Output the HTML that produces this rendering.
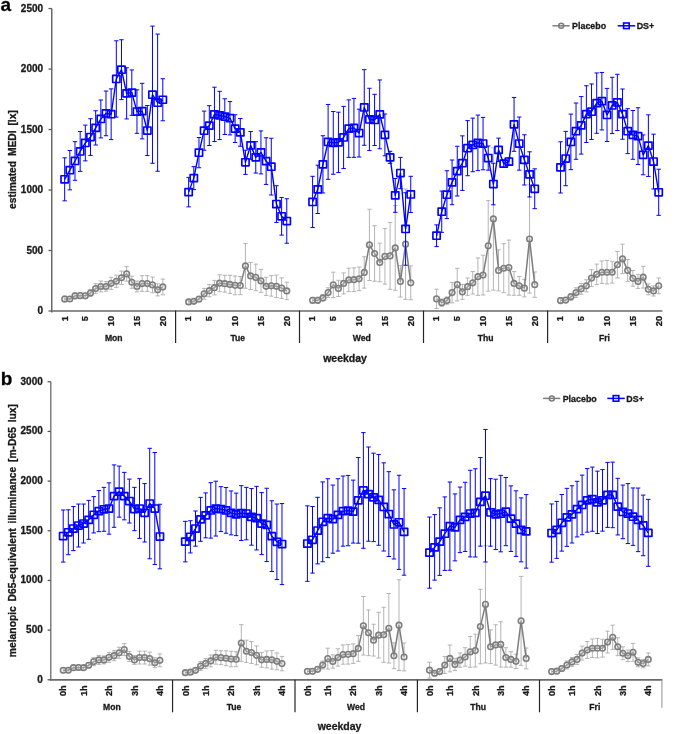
<!DOCTYPE html>
<html lang="en">
<head>
<meta charset="utf-8">
<title>Estimated MEDI and melanopic D65-equivalent illuminance by weekday</title>
<style>
html,body{margin:0;padding:0;background:#fff;}
body{width:685px;height:734px;overflow:hidden;}
svg{display:block;will-change:transform;}
text{font-family:"Liberation Sans",Arial,Helvetica,sans-serif;font-weight:bold;fill:#1a1a1a;stroke:#1a1a1a;stroke-width:0.3px;}
.yt{font-size:10px;}
.xt{font-size:9.2px;}
.day{font-size:8.6px;}
.lg{font-size:8.9px;}
.pl{font-size:19px;fill:#000;}
.ytitle{font-size:10.3px;word-spacing:1.9px;}
.xtitle{font-size:10.5px;}
</style>
</head>
<body>
<svg width="685" height="734" viewBox="0 0 685 734">
<rect width="685" height="734" fill="#fff"/>
<g id="panel-a">
<path d="M64.66 295.99V302.03M62.46 295.99H66.86M62.46 302.03H66.86M69.83 296.59V301.42M67.63 296.59H72.03M67.63 301.42H72.03M74.99 292.85V298.89M72.79 292.85H77.19M72.79 298.89H77.19M80.16 292.61V298.64M77.96 292.61H82.36M77.96 298.64H82.36M85.33 293.21V298.52M83.13 293.21H87.53M83.13 298.52H87.53M90.49 289.59V296.35M88.29 289.59H92.69M88.29 296.35H92.69M95.66 283.67V293.33M93.46 283.67H97.86M93.46 293.33H97.86M100.82 281.01V291.88M98.62 281.01H103.02M98.62 291.88H103.02M105.99 281.62V291.28M103.79 281.62H108.19M103.79 291.28H108.19M111.15 277.27V289.35M108.95 277.27H113.35M108.95 289.35H113.35M116.32 275.22V287.29M114.12 275.22H118.52M114.12 287.29H118.52M121.48 271.11V284.4M119.28 271.11H123.68M119.28 284.4H123.68M126.65 266.64V281.13M124.45 266.64H128.85M124.45 281.13H128.85M131.81 276.18V288.26M129.61 276.18H134.01M129.61 288.26H134.01M136.98 281.01V291.88M134.78 281.01H139.18M134.78 291.88H139.18M142.14 275.7V291.4M139.94 275.7H144.34M139.94 291.4H144.34M147.31 275.7V291.4M145.11 275.7H149.51M145.11 291.4H149.51M152.48 277.03V292.73M150.28 277.03H154.68M150.28 292.73H154.68M157.64 283.79V295.87M155.44 283.79H159.84M155.44 295.87H159.84M162.81 279.08V294.78M160.61 279.08H165.01M160.61 294.78H165.01M188.63 300.09V303.72M186.43 300.09H190.83M186.43 303.72H190.83M193.8 299.49V303.11M191.6 299.49H196M191.6 303.11H196M198.96 296.71V301.54M196.76 296.71H201.16M196.76 301.54H201.16M204.13 288.38V299.25M201.93 288.38H206.33M201.93 299.25H206.33M209.3 284.64V296.71M207.1 284.64H211.5M207.1 296.71H211.5M214.46 280.41V294.9M212.26 280.41H216.66M212.26 294.9H216.66M219.63 274.73V291.64M217.43 274.73H221.83M217.43 291.64H221.83M224.79 275.22V292.12M222.59 275.22H226.99M222.59 292.12H226.99M229.96 275.34V293.45M227.76 275.34H232.16M227.76 293.45H232.16M235.12 275.94V294.78M232.92 275.94H237.32M232.92 294.78H237.32M240.29 276.55V294.66M238.09 276.55H242.49M238.09 294.66H242.49M245.45 243.58V288.26M243.25 243.58H247.65M243.25 288.26H247.65M250.62 262.42V289.47M248.42 262.42H252.82M248.42 289.47H252.82M255.78 264.11V290.67M253.58 264.11H257.98M253.58 290.67H257.98M260.95 269.42V292.37M258.75 269.42H263.15M258.75 292.37H263.15M266.11 277.27V295.38M263.91 277.27H268.31M263.91 295.38H268.31M271.28 275.58V296.11M269.08 275.58H273.48M269.08 296.11H273.48M276.45 275.1V297.56M274.25 275.1H278.65M274.25 297.56H278.65M281.61 277.87V298.4M279.41 277.87H283.81M279.41 298.4H283.81M286.78 282.22V299.61M284.58 282.22H288.98M284.58 299.61H288.98M312.6 297.32V303.35M310.4 297.32H314.8M310.4 303.35H314.8M317.77 297.32V303.35M315.57 297.32H319.97M315.57 303.35H319.97M322.93 294.9V300.94M320.73 294.9H325.13M320.73 300.94H325.13M328.1 287.78V297.44M325.9 287.78H330.3M325.9 297.44H330.3M333.27 272.2V297.56M331.07 272.2H335.47M331.07 297.56H335.47M338.43 280.29V296.47M336.23 280.29H340.63M336.23 296.47H340.63M343.6 272.92V293.94M341.4 272.92H345.8M341.4 293.94H345.8M348.76 268.21V291.64M346.56 268.21H350.96M346.56 291.64H350.96M353.93 267.85V291.52M351.73 267.85H356.13M351.73 291.52H356.13M359.09 267.01V290.67M356.89 267.01H361.29M356.89 290.67H361.29M364.26 256.74V288.14M362.06 256.74H366.46M362.06 288.14H366.46M369.42 209.28V280.53M367.22 209.28H371.62M367.22 280.53H371.62M374.59 225.71V281.26M372.39 225.71H376.79M372.39 281.26H376.79M379.75 243.1V281.74M377.55 243.1H381.95M377.55 281.74H381.95M384.92 228.6V284.15M382.72 228.6H387.12M382.72 284.15H387.12M390.08 222.45V289.35M387.88 222.45H392.28M387.88 289.35H392.28M395.25 205.66V290.19M393.05 205.66H397.45M393.05 290.19H397.45M400.42 265.68V297.07M398.22 265.68H402.62M398.22 297.07H402.62M405.58 188.99V299.37M403.38 188.99H407.78M403.38 299.37H407.78M410.75 265.92V299.73M408.55 265.92H412.95M408.55 299.73H412.95M436.57 289.23V308.55M434.37 289.23H438.77M434.37 308.55H438.77M441.74 299.01V306.25M439.54 299.01H443.94M439.54 306.25H443.94M446.9 296.95V304.2M444.7 296.95H449.1M444.7 304.2H449.1M452.07 282.34V302.87M449.87 282.34H454.27M449.87 302.87H454.27M457.24 268.33V300.94M455.04 268.33H459.44M455.04 300.94H459.44M462.4 284.4V299.37M460.2 284.4H464.6M460.2 299.37H464.6M467.57 277.99V295.38M465.37 277.99H469.77M465.37 295.38H469.77M472.73 271.59V294.06M470.53 271.59H474.93M470.53 294.06H474.93M477.9 257.95V295.38M475.7 257.95H480.1M475.7 295.38H480.1M483.06 255.17V295.02M480.86 255.17H485.26M480.86 295.02H485.26M488.23 200.59V291.16M486.03 200.59H490.43M486.03 291.16H490.43M493.39 147.69V290.19M491.19 147.69H495.59M491.19 290.19H495.59M498.56 249.86V290.92M496.36 249.86H500.76M496.36 290.92H500.76M503.72 243.7V292.73M501.52 243.7H505.92M501.52 292.73H505.92M508.89 240.08V295.14M506.69 240.08H511.09M506.69 295.14H511.09M514.05 271.59V295.26M511.85 271.59H516.25M511.85 295.26H516.25M519.22 276.42V295.26M517.02 276.42H521.42M517.02 295.26H521.42M524.39 279.44V296.83M522.19 279.44H526.59M522.19 296.83H526.59M529.55 184.89V293.09M527.35 184.89H531.75M527.35 293.09H531.75M534.72 271.96V297.32M532.52 271.96H536.92M532.52 297.32H536.92M560.54 297.56V303.6M558.34 297.56H562.74M558.34 303.6H562.74M565.71 297.44V302.75M563.51 297.44H567.91M563.51 302.75H567.91M570.87 293.45V300.21M568.67 293.45H573.07M568.67 300.21H573.07M576.04 287.78V297.44M573.84 287.78H578.24M573.84 297.44H578.24M581.21 283.43V294.3M579.01 283.43H583.41M579.01 294.3H583.41M586.37 279.81V291.88M584.17 279.81H588.57M584.17 291.88H588.57M591.54 269.66V286.57M589.34 269.66H593.74M589.34 286.57H593.74M596.7 264.11V284.64M594.5 264.11H598.9M594.5 284.64H598.9M601.87 260.97V283.43M599.67 260.97H604.07M599.67 283.43H604.07M607.03 260.48V283.91M604.83 260.48H609.23M604.83 283.91H609.23M612.2 261.33V283.07M610 261.33H614.4M610 283.07H614.4M617.36 251.43V277.99M615.16 251.43H619.56M615.16 277.99H619.56M622.53 244.18V273.65M620.33 244.18H624.73M620.33 273.65H624.73M627.69 259.52V281.26M625.49 259.52H629.89M625.49 281.26H629.89M632.86 270.51V286.21M630.66 270.51H635.06M630.66 286.21H635.06M638.02 274.37V288.38M635.82 274.37H640.22M635.82 288.38H640.22M643.19 266.28V288.02M640.99 266.28H645.39M640.99 288.02H645.39M648.36 283.91V294.78M646.16 283.91H650.56M646.16 294.78H650.56M653.52 285.84V295.99M651.32 285.84H655.72M651.32 295.99H655.72M658.69 277.99V293.69M656.49 277.99H660.89M656.49 293.69H660.89" fill="none" stroke="#adadad" stroke-width="0.9"/>
<polyline points="64.66,299.01 69.83,299.01 74.99,295.87 80.16,295.63 85.33,295.87 90.49,292.97 95.66,288.5 100.82,286.45 105.99,286.45 111.15,283.31 116.32,281.26 121.48,277.75 126.65,273.89 131.81,282.22 136.98,286.45 142.14,283.55 147.31,283.55 152.48,284.88 157.64,289.83 162.81,286.93" fill="none" stroke="#7d7d7d" stroke-width="1.5" stroke-linejoin="round"/>
<polyline points="188.63,301.91 193.8,301.3 198.96,299.13 204.13,293.81 209.3,290.67 214.46,287.66 219.63,283.19 224.79,283.67 229.96,284.4 235.12,285.36 240.29,285.6 245.45,265.92 250.62,275.94 255.78,277.39 260.95,280.89 266.11,286.33 271.28,285.84 276.45,286.33 281.61,288.14 286.78,290.92" fill="none" stroke="#7d7d7d" stroke-width="1.5" stroke-linejoin="round"/>
<polyline points="312.6,300.34 317.77,300.34 322.93,297.92 328.1,292.61 333.27,284.88 338.43,288.38 343.6,283.43 348.76,279.93 353.93,279.69 359.09,278.84 364.26,272.44 369.42,244.91 374.59,253.48 379.75,262.42 384.92,256.38 390.08,255.9 395.25,247.93 400.42,281.38 405.58,244.18 410.75,282.83" fill="none" stroke="#7d7d7d" stroke-width="1.5" stroke-linejoin="round"/>
<polyline points="436.57,298.89 441.74,302.63 446.9,300.58 452.07,292.61 457.24,284.64 462.4,291.88 467.57,286.69 472.73,282.83 477.9,276.67 483.06,275.1 488.23,245.87 493.39,218.94 498.56,270.39 503.72,268.21 508.89,267.61 514.05,283.43 519.22,285.84 524.39,288.14 529.55,238.99 534.72,284.64" fill="none" stroke="#7d7d7d" stroke-width="1.5" stroke-linejoin="round"/>
<polyline points="560.54,300.58 565.71,300.09 570.87,296.83 576.04,292.61 581.21,288.86 586.37,285.84 591.54,278.12 596.7,274.37 601.87,272.2 607.03,272.2 612.2,272.2 617.36,264.71 622.53,258.91 627.69,270.39 632.86,278.36 638.02,281.38 643.19,277.15 648.36,289.35 653.52,290.92 658.69,285.84" fill="none" stroke="#7d7d7d" stroke-width="1.5" stroke-linejoin="round"/>
<circle cx="64.66" cy="299.01" r="2.8" fill="#e4e4e4" fill-opacity="0.3" stroke="#7d7d7d" stroke-width="1.55"/>
<circle cx="69.83" cy="299.01" r="2.8" fill="#e4e4e4" fill-opacity="0.3" stroke="#7d7d7d" stroke-width="1.55"/>
<circle cx="74.99" cy="295.87" r="2.8" fill="#e4e4e4" fill-opacity="0.3" stroke="#7d7d7d" stroke-width="1.55"/>
<circle cx="80.16" cy="295.63" r="2.8" fill="#e4e4e4" fill-opacity="0.3" stroke="#7d7d7d" stroke-width="1.55"/>
<circle cx="85.33" cy="295.87" r="2.8" fill="#e4e4e4" fill-opacity="0.3" stroke="#7d7d7d" stroke-width="1.55"/>
<circle cx="90.49" cy="292.97" r="2.8" fill="#e4e4e4" fill-opacity="0.3" stroke="#7d7d7d" stroke-width="1.55"/>
<circle cx="95.66" cy="288.5" r="2.8" fill="#e4e4e4" fill-opacity="0.3" stroke="#7d7d7d" stroke-width="1.55"/>
<circle cx="100.82" cy="286.45" r="2.8" fill="#e4e4e4" fill-opacity="0.3" stroke="#7d7d7d" stroke-width="1.55"/>
<circle cx="105.99" cy="286.45" r="2.8" fill="#e4e4e4" fill-opacity="0.3" stroke="#7d7d7d" stroke-width="1.55"/>
<circle cx="111.15" cy="283.31" r="2.8" fill="#e4e4e4" fill-opacity="0.3" stroke="#7d7d7d" stroke-width="1.55"/>
<circle cx="116.32" cy="281.26" r="2.8" fill="#e4e4e4" fill-opacity="0.3" stroke="#7d7d7d" stroke-width="1.55"/>
<circle cx="121.48" cy="277.75" r="2.8" fill="#e4e4e4" fill-opacity="0.3" stroke="#7d7d7d" stroke-width="1.55"/>
<circle cx="126.65" cy="273.89" r="2.8" fill="#e4e4e4" fill-opacity="0.3" stroke="#7d7d7d" stroke-width="1.55"/>
<circle cx="131.81" cy="282.22" r="2.8" fill="#e4e4e4" fill-opacity="0.3" stroke="#7d7d7d" stroke-width="1.55"/>
<circle cx="136.98" cy="286.45" r="2.8" fill="#e4e4e4" fill-opacity="0.3" stroke="#7d7d7d" stroke-width="1.55"/>
<circle cx="142.14" cy="283.55" r="2.8" fill="#e4e4e4" fill-opacity="0.3" stroke="#7d7d7d" stroke-width="1.55"/>
<circle cx="147.31" cy="283.55" r="2.8" fill="#e4e4e4" fill-opacity="0.3" stroke="#7d7d7d" stroke-width="1.55"/>
<circle cx="152.48" cy="284.88" r="2.8" fill="#e4e4e4" fill-opacity="0.3" stroke="#7d7d7d" stroke-width="1.55"/>
<circle cx="157.64" cy="289.83" r="2.8" fill="#e4e4e4" fill-opacity="0.3" stroke="#7d7d7d" stroke-width="1.55"/>
<circle cx="162.81" cy="286.93" r="2.8" fill="#e4e4e4" fill-opacity="0.3" stroke="#7d7d7d" stroke-width="1.55"/>
<circle cx="188.63" cy="301.91" r="2.8" fill="#e4e4e4" fill-opacity="0.3" stroke="#7d7d7d" stroke-width="1.55"/>
<circle cx="193.8" cy="301.3" r="2.8" fill="#e4e4e4" fill-opacity="0.3" stroke="#7d7d7d" stroke-width="1.55"/>
<circle cx="198.96" cy="299.13" r="2.8" fill="#e4e4e4" fill-opacity="0.3" stroke="#7d7d7d" stroke-width="1.55"/>
<circle cx="204.13" cy="293.81" r="2.8" fill="#e4e4e4" fill-opacity="0.3" stroke="#7d7d7d" stroke-width="1.55"/>
<circle cx="209.3" cy="290.67" r="2.8" fill="#e4e4e4" fill-opacity="0.3" stroke="#7d7d7d" stroke-width="1.55"/>
<circle cx="214.46" cy="287.66" r="2.8" fill="#e4e4e4" fill-opacity="0.3" stroke="#7d7d7d" stroke-width="1.55"/>
<circle cx="219.63" cy="283.19" r="2.8" fill="#e4e4e4" fill-opacity="0.3" stroke="#7d7d7d" stroke-width="1.55"/>
<circle cx="224.79" cy="283.67" r="2.8" fill="#e4e4e4" fill-opacity="0.3" stroke="#7d7d7d" stroke-width="1.55"/>
<circle cx="229.96" cy="284.4" r="2.8" fill="#e4e4e4" fill-opacity="0.3" stroke="#7d7d7d" stroke-width="1.55"/>
<circle cx="235.12" cy="285.36" r="2.8" fill="#e4e4e4" fill-opacity="0.3" stroke="#7d7d7d" stroke-width="1.55"/>
<circle cx="240.29" cy="285.6" r="2.8" fill="#e4e4e4" fill-opacity="0.3" stroke="#7d7d7d" stroke-width="1.55"/>
<circle cx="245.45" cy="265.92" r="2.8" fill="#e4e4e4" fill-opacity="0.3" stroke="#7d7d7d" stroke-width="1.55"/>
<circle cx="250.62" cy="275.94" r="2.8" fill="#e4e4e4" fill-opacity="0.3" stroke="#7d7d7d" stroke-width="1.55"/>
<circle cx="255.78" cy="277.39" r="2.8" fill="#e4e4e4" fill-opacity="0.3" stroke="#7d7d7d" stroke-width="1.55"/>
<circle cx="260.95" cy="280.89" r="2.8" fill="#e4e4e4" fill-opacity="0.3" stroke="#7d7d7d" stroke-width="1.55"/>
<circle cx="266.11" cy="286.33" r="2.8" fill="#e4e4e4" fill-opacity="0.3" stroke="#7d7d7d" stroke-width="1.55"/>
<circle cx="271.28" cy="285.84" r="2.8" fill="#e4e4e4" fill-opacity="0.3" stroke="#7d7d7d" stroke-width="1.55"/>
<circle cx="276.45" cy="286.33" r="2.8" fill="#e4e4e4" fill-opacity="0.3" stroke="#7d7d7d" stroke-width="1.55"/>
<circle cx="281.61" cy="288.14" r="2.8" fill="#e4e4e4" fill-opacity="0.3" stroke="#7d7d7d" stroke-width="1.55"/>
<circle cx="286.78" cy="290.92" r="2.8" fill="#e4e4e4" fill-opacity="0.3" stroke="#7d7d7d" stroke-width="1.55"/>
<circle cx="312.6" cy="300.34" r="2.8" fill="#e4e4e4" fill-opacity="0.3" stroke="#7d7d7d" stroke-width="1.55"/>
<circle cx="317.77" cy="300.34" r="2.8" fill="#e4e4e4" fill-opacity="0.3" stroke="#7d7d7d" stroke-width="1.55"/>
<circle cx="322.93" cy="297.92" r="2.8" fill="#e4e4e4" fill-opacity="0.3" stroke="#7d7d7d" stroke-width="1.55"/>
<circle cx="328.1" cy="292.61" r="2.8" fill="#e4e4e4" fill-opacity="0.3" stroke="#7d7d7d" stroke-width="1.55"/>
<circle cx="333.27" cy="284.88" r="2.8" fill="#e4e4e4" fill-opacity="0.3" stroke="#7d7d7d" stroke-width="1.55"/>
<circle cx="338.43" cy="288.38" r="2.8" fill="#e4e4e4" fill-opacity="0.3" stroke="#7d7d7d" stroke-width="1.55"/>
<circle cx="343.6" cy="283.43" r="2.8" fill="#e4e4e4" fill-opacity="0.3" stroke="#7d7d7d" stroke-width="1.55"/>
<circle cx="348.76" cy="279.93" r="2.8" fill="#e4e4e4" fill-opacity="0.3" stroke="#7d7d7d" stroke-width="1.55"/>
<circle cx="353.93" cy="279.69" r="2.8" fill="#e4e4e4" fill-opacity="0.3" stroke="#7d7d7d" stroke-width="1.55"/>
<circle cx="359.09" cy="278.84" r="2.8" fill="#e4e4e4" fill-opacity="0.3" stroke="#7d7d7d" stroke-width="1.55"/>
<circle cx="364.26" cy="272.44" r="2.8" fill="#e4e4e4" fill-opacity="0.3" stroke="#7d7d7d" stroke-width="1.55"/>
<circle cx="369.42" cy="244.91" r="2.8" fill="#e4e4e4" fill-opacity="0.3" stroke="#7d7d7d" stroke-width="1.55"/>
<circle cx="374.59" cy="253.48" r="2.8" fill="#e4e4e4" fill-opacity="0.3" stroke="#7d7d7d" stroke-width="1.55"/>
<circle cx="379.75" cy="262.42" r="2.8" fill="#e4e4e4" fill-opacity="0.3" stroke="#7d7d7d" stroke-width="1.55"/>
<circle cx="384.92" cy="256.38" r="2.8" fill="#e4e4e4" fill-opacity="0.3" stroke="#7d7d7d" stroke-width="1.55"/>
<circle cx="390.08" cy="255.9" r="2.8" fill="#e4e4e4" fill-opacity="0.3" stroke="#7d7d7d" stroke-width="1.55"/>
<circle cx="395.25" cy="247.93" r="2.8" fill="#e4e4e4" fill-opacity="0.3" stroke="#7d7d7d" stroke-width="1.55"/>
<circle cx="400.42" cy="281.38" r="2.8" fill="#e4e4e4" fill-opacity="0.3" stroke="#7d7d7d" stroke-width="1.55"/>
<circle cx="405.58" cy="244.18" r="2.8" fill="#e4e4e4" fill-opacity="0.3" stroke="#7d7d7d" stroke-width="1.55"/>
<circle cx="410.75" cy="282.83" r="2.8" fill="#e4e4e4" fill-opacity="0.3" stroke="#7d7d7d" stroke-width="1.55"/>
<circle cx="436.57" cy="298.89" r="2.8" fill="#e4e4e4" fill-opacity="0.3" stroke="#7d7d7d" stroke-width="1.55"/>
<circle cx="441.74" cy="302.63" r="2.8" fill="#e4e4e4" fill-opacity="0.3" stroke="#7d7d7d" stroke-width="1.55"/>
<circle cx="446.9" cy="300.58" r="2.8" fill="#e4e4e4" fill-opacity="0.3" stroke="#7d7d7d" stroke-width="1.55"/>
<circle cx="452.07" cy="292.61" r="2.8" fill="#e4e4e4" fill-opacity="0.3" stroke="#7d7d7d" stroke-width="1.55"/>
<circle cx="457.24" cy="284.64" r="2.8" fill="#e4e4e4" fill-opacity="0.3" stroke="#7d7d7d" stroke-width="1.55"/>
<circle cx="462.4" cy="291.88" r="2.8" fill="#e4e4e4" fill-opacity="0.3" stroke="#7d7d7d" stroke-width="1.55"/>
<circle cx="467.57" cy="286.69" r="2.8" fill="#e4e4e4" fill-opacity="0.3" stroke="#7d7d7d" stroke-width="1.55"/>
<circle cx="472.73" cy="282.83" r="2.8" fill="#e4e4e4" fill-opacity="0.3" stroke="#7d7d7d" stroke-width="1.55"/>
<circle cx="477.9" cy="276.67" r="2.8" fill="#e4e4e4" fill-opacity="0.3" stroke="#7d7d7d" stroke-width="1.55"/>
<circle cx="483.06" cy="275.1" r="2.8" fill="#e4e4e4" fill-opacity="0.3" stroke="#7d7d7d" stroke-width="1.55"/>
<circle cx="488.23" cy="245.87" r="2.8" fill="#e4e4e4" fill-opacity="0.3" stroke="#7d7d7d" stroke-width="1.55"/>
<circle cx="493.39" cy="218.94" r="2.8" fill="#e4e4e4" fill-opacity="0.3" stroke="#7d7d7d" stroke-width="1.55"/>
<circle cx="498.56" cy="270.39" r="2.8" fill="#e4e4e4" fill-opacity="0.3" stroke="#7d7d7d" stroke-width="1.55"/>
<circle cx="503.72" cy="268.21" r="2.8" fill="#e4e4e4" fill-opacity="0.3" stroke="#7d7d7d" stroke-width="1.55"/>
<circle cx="508.89" cy="267.61" r="2.8" fill="#e4e4e4" fill-opacity="0.3" stroke="#7d7d7d" stroke-width="1.55"/>
<circle cx="514.05" cy="283.43" r="2.8" fill="#e4e4e4" fill-opacity="0.3" stroke="#7d7d7d" stroke-width="1.55"/>
<circle cx="519.22" cy="285.84" r="2.8" fill="#e4e4e4" fill-opacity="0.3" stroke="#7d7d7d" stroke-width="1.55"/>
<circle cx="524.39" cy="288.14" r="2.8" fill="#e4e4e4" fill-opacity="0.3" stroke="#7d7d7d" stroke-width="1.55"/>
<circle cx="529.55" cy="238.99" r="2.8" fill="#e4e4e4" fill-opacity="0.3" stroke="#7d7d7d" stroke-width="1.55"/>
<circle cx="534.72" cy="284.64" r="2.8" fill="#e4e4e4" fill-opacity="0.3" stroke="#7d7d7d" stroke-width="1.55"/>
<circle cx="560.54" cy="300.58" r="2.8" fill="#e4e4e4" fill-opacity="0.3" stroke="#7d7d7d" stroke-width="1.55"/>
<circle cx="565.71" cy="300.09" r="2.8" fill="#e4e4e4" fill-opacity="0.3" stroke="#7d7d7d" stroke-width="1.55"/>
<circle cx="570.87" cy="296.83" r="2.8" fill="#e4e4e4" fill-opacity="0.3" stroke="#7d7d7d" stroke-width="1.55"/>
<circle cx="576.04" cy="292.61" r="2.8" fill="#e4e4e4" fill-opacity="0.3" stroke="#7d7d7d" stroke-width="1.55"/>
<circle cx="581.21" cy="288.86" r="2.8" fill="#e4e4e4" fill-opacity="0.3" stroke="#7d7d7d" stroke-width="1.55"/>
<circle cx="586.37" cy="285.84" r="2.8" fill="#e4e4e4" fill-opacity="0.3" stroke="#7d7d7d" stroke-width="1.55"/>
<circle cx="591.54" cy="278.12" r="2.8" fill="#e4e4e4" fill-opacity="0.3" stroke="#7d7d7d" stroke-width="1.55"/>
<circle cx="596.7" cy="274.37" r="2.8" fill="#e4e4e4" fill-opacity="0.3" stroke="#7d7d7d" stroke-width="1.55"/>
<circle cx="601.87" cy="272.2" r="2.8" fill="#e4e4e4" fill-opacity="0.3" stroke="#7d7d7d" stroke-width="1.55"/>
<circle cx="607.03" cy="272.2" r="2.8" fill="#e4e4e4" fill-opacity="0.3" stroke="#7d7d7d" stroke-width="1.55"/>
<circle cx="612.2" cy="272.2" r="2.8" fill="#e4e4e4" fill-opacity="0.3" stroke="#7d7d7d" stroke-width="1.55"/>
<circle cx="617.36" cy="264.71" r="2.8" fill="#e4e4e4" fill-opacity="0.3" stroke="#7d7d7d" stroke-width="1.55"/>
<circle cx="622.53" cy="258.91" r="2.8" fill="#e4e4e4" fill-opacity="0.3" stroke="#7d7d7d" stroke-width="1.55"/>
<circle cx="627.69" cy="270.39" r="2.8" fill="#e4e4e4" fill-opacity="0.3" stroke="#7d7d7d" stroke-width="1.55"/>
<circle cx="632.86" cy="278.36" r="2.8" fill="#e4e4e4" fill-opacity="0.3" stroke="#7d7d7d" stroke-width="1.55"/>
<circle cx="638.02" cy="281.38" r="2.8" fill="#e4e4e4" fill-opacity="0.3" stroke="#7d7d7d" stroke-width="1.55"/>
<circle cx="643.19" cy="277.15" r="2.8" fill="#e4e4e4" fill-opacity="0.3" stroke="#7d7d7d" stroke-width="1.55"/>
<circle cx="648.36" cy="289.35" r="2.8" fill="#e4e4e4" fill-opacity="0.3" stroke="#7d7d7d" stroke-width="1.55"/>
<circle cx="653.52" cy="290.92" r="2.8" fill="#e4e4e4" fill-opacity="0.3" stroke="#7d7d7d" stroke-width="1.55"/>
<circle cx="658.69" cy="285.84" r="2.8" fill="#e4e4e4" fill-opacity="0.3" stroke="#7d7d7d" stroke-width="1.55"/>
<path d="M64.66 157.84V200.83M62.46 157.84H66.86M62.46 200.83H66.86M69.83 150.47V189.84M67.63 150.47H72.03M67.63 189.84H72.03M74.99 141.66V180.3M72.79 141.66H77.19M72.79 180.3H77.19M80.16 131.51V171.36M77.96 131.51H82.36M77.96 171.36H82.36M85.33 125.11V160.86M83.13 125.11H87.53M83.13 160.86H87.53M90.49 118.71V155.42M88.29 118.71H92.69M88.29 155.42H92.69M95.66 110.74V145.04M93.46 110.74H97.86M93.46 145.04H97.86M100.82 99.99V137.91M98.62 99.99H103.02M98.62 137.91H103.02M105.99 91.06V135.74M103.79 91.06H108.19M103.79 135.74H108.19M111.15 88.88V139.6M108.95 88.88H113.35M108.95 139.6H113.35M116.32 40.82V117.14M114.12 40.82H118.52M114.12 117.14H118.52M121.48 39.74V99.63M119.28 39.74H123.68M119.28 99.63H123.68M126.65 67.75V118.95M124.45 67.75H128.85M124.45 118.95H128.85M131.81 69.93V115.33M129.61 69.93H134.01M129.61 115.33H134.01M136.98 89.85V133.32M134.78 89.85H139.18M134.78 133.32H139.18M142.14 83.33V138.88M139.94 83.33H144.34M139.94 138.88H144.34M147.31 105.55V155.54M145.11 105.55H149.51M145.11 155.54H149.51M152.48 26.09V163.27M150.28 26.09H154.68M150.28 163.27H154.68M157.64 34.06V171.24M155.44 34.06H159.84M155.44 171.24H159.84M162.81 78.74V120.77M160.61 78.74H165.01M160.61 120.77H165.01M188.63 177.4V206.87M186.43 177.4H190.83M186.43 206.87H190.83M193.8 166.65V189.6M191.6 166.65H196M191.6 189.6H196M198.96 137.55V167.74M196.76 137.55H201.16M196.76 167.74H201.16M204.13 111.1V150.23M201.93 111.1H206.33M201.93 150.23H206.33M209.3 105.67V145.52M207.1 105.67H211.5M207.1 145.52H211.5M214.46 87.19V141.54M212.26 87.19H216.66M212.26 141.54H216.66M219.63 91.3V139.6M217.43 91.3H221.83M217.43 139.6H221.83M224.79 98.79V134.53M222.59 98.79H226.99M222.59 134.53H226.99M229.96 101.56V134.89M227.76 101.56H232.16M227.76 134.89H232.16M235.12 114.73V142.5M232.92 114.73H237.32M232.92 142.5H237.32M240.29 118.47V146.25M238.09 118.47H242.49M238.09 146.25H242.49M245.45 150.23V174.38M243.25 150.23H247.65M243.25 174.38H247.65M250.62 131.51V159.29M248.42 131.51H252.82M248.42 159.29H252.82M255.78 141.66V173.05M253.58 141.66H257.98M253.58 173.05H257.98M260.95 130.91V173.9M258.75 130.91H263.15M258.75 173.9H263.15M266.11 137.79V184.41M263.91 137.79H268.31M263.91 184.41H268.31M271.28 138.28V195.03M269.08 138.28H273.48M269.08 195.03H273.48M276.45 185.73V222.45M274.25 185.73H278.65M274.25 222.45H278.65M281.61 197.45V235.12M279.41 197.45H283.81M279.41 235.12H283.81M286.78 198.78V243.22M284.58 198.78H288.98M284.58 243.22H288.98M312.6 176.31V227.52M310.4 176.31H314.8M310.4 227.52H314.8M317.77 165.2V213.51M315.57 165.2H319.97M315.57 213.51H319.97M322.93 135.74V192.98M320.73 135.74H325.13M320.73 192.98H325.13M328.1 104.46V179.33M325.9 104.46H330.3M325.9 179.33H330.3M333.27 111.47V174.26M331.07 111.47H335.47M331.07 174.26H335.47M338.43 112.19V172.57M336.23 112.19H340.63M336.23 172.57H340.63M343.6 106.39V168.47M341.4 106.39H345.8M341.4 168.47H345.8M348.76 99.87V157.36M346.56 99.87H350.96M346.56 157.36H350.96M353.93 98.42V157.36M351.73 98.42H356.13M351.73 157.36H356.13M359.09 109.17V156.99M356.89 109.17H361.29M356.89 156.99H361.29M364.26 69.68V145.28M362.06 69.68H366.46M362.06 145.28H366.46M369.42 88.28V150.59M367.22 88.28H371.62M367.22 150.59H371.62M374.59 94.32V145.52M372.39 94.32H376.79M372.39 145.52H376.79M379.75 79.95V148.78M377.55 79.95H381.95M377.55 148.78H381.95M384.92 114V155.79M382.72 114H387.12M382.72 155.79H387.12M390.08 151.32V163.39M387.88 151.32H392.28M387.88 163.39H392.28M395.25 178.49V212.3M393.05 178.49H397.45M393.05 212.3H397.45M400.42 157.36V188.75M398.22 157.36H402.62M398.22 188.75H402.62M405.58 192.74V265.19M403.38 192.74H407.78M403.38 265.19H407.78M410.75 176.31V212.54M408.55 176.31H412.95M408.55 212.54H412.95M436.57 224.86V246.6M434.37 224.86H438.77M434.37 246.6H438.77M441.74 191.05V232.35M439.54 191.05H443.94M439.54 232.35H443.94M446.9 170.76V218.58M444.7 170.76H449.1M444.7 218.58H449.1M452.07 160.01V204.69M449.87 160.01H454.27M449.87 204.69H454.27M457.24 146.25V196M455.04 146.25H459.44M455.04 196H459.44M462.4 135.86V190.44M460.2 135.86H464.6M460.2 190.44H464.6M467.57 120.64V175.71M465.37 120.64H469.77M465.37 175.71H469.77M472.73 118.11V171.73M470.53 118.11H474.93M470.53 171.73H474.93M477.9 115.09V170.64M475.7 115.09H480.1M475.7 170.64H480.1M483.06 117.38V169.79M480.86 117.38H485.26M480.86 169.79H485.26M488.23 146V170.16M486.03 146H490.43M486.03 170.16H490.43M493.39 163.27V204.81M491.19 163.27H495.59M491.19 204.81H495.59M498.56 138.15V161.58M496.36 138.15H500.76M496.36 161.58H500.76M503.72 160.01V167.26M501.52 160.01H505.92M501.52 167.26H505.92M508.89 157.96V165.2M506.69 157.96H511.09M506.69 165.2H511.09M514.05 97.46V151.32M511.85 97.46H516.25M511.85 151.32H516.25M519.22 117.02V170.16M517.02 117.02H521.42M517.02 170.16H521.42M524.39 134.77V185.01M522.19 134.77H526.59M522.19 185.01H526.59M529.55 151.8V196.96M527.35 151.8H531.75M527.35 196.96H531.75M534.72 168.83V208.68M532.52 168.83H536.92M532.52 208.68H536.92M560.54 141.78V192.98M558.34 141.78H562.74M558.34 192.98H562.74M565.71 131.39V185.73M563.51 131.39H567.91M563.51 185.73H567.91M570.87 114.12V169.67M568.67 114.12H573.07M568.67 169.67H573.07M576.04 103.01V159.29M573.84 103.01H578.24M573.84 159.29H578.24M581.21 96.61V154.1M579.01 96.61H583.41M579.01 154.1H583.41M586.37 85.74V142.5M584.17 85.74H588.57M584.17 142.5H588.57M591.54 83.93V139.48M589.34 83.93H593.74M589.34 139.48H593.74M596.7 72.94V133.32M594.5 72.94H598.9M594.5 133.32H598.9M601.87 72.46V129.94M599.67 72.46H604.07M599.67 129.94H604.07M607.03 88.4V141.54M604.83 88.4H609.23M604.83 141.54H609.23M612.2 77.29V133.57M610 77.29H614.4M610 133.57H614.4M617.36 74.27V130.55M615.16 74.27H619.56M615.16 130.55H619.56M622.53 89.01V139.24M620.33 89.01H624.73M620.33 139.24H624.73M627.69 108.69V153.61M625.49 108.69H629.89M625.49 153.61H629.89M632.86 110.5V159.29M630.66 110.5H635.06M630.66 159.29H635.06M638.02 107.72V164.48M635.82 107.72H640.22M635.82 164.48H640.22M643.19 134.89V174.75M640.99 134.89H645.39M640.99 174.75H645.39M648.36 114.85V176.44M646.16 114.85H650.56M646.16 176.44H650.56M653.52 134.17V188.99M651.32 134.17H655.72M651.32 188.99H655.72M658.69 169.19V215.32M656.49 169.19H660.89M656.49 215.32H660.89" fill="none" stroke="#0000ff" stroke-width="1"/>
<polyline points="64.66,179.33 69.83,170.16 74.99,160.98 80.16,151.44 85.33,142.99 90.49,137.07 95.66,127.89 100.82,118.95 105.99,113.4 111.15,114.24 116.32,78.98 121.48,69.68 126.65,93.35 131.81,92.63 136.98,111.59 142.14,111.1 147.31,130.55 152.48,94.68 157.64,102.65 162.81,99.75" fill="none" stroke="#0000ff" stroke-width="1.4" stroke-linejoin="round"/>
<polyline points="188.63,192.13 193.8,178.13 198.96,152.65 204.13,130.67 209.3,125.6 214.46,114.37 219.63,115.45 224.79,116.66 229.96,118.23 235.12,128.61 240.29,132.36 245.45,162.31 250.62,145.4 255.78,157.36 260.95,152.4 266.11,161.1 271.28,166.65 276.45,204.09 281.61,216.29 286.78,221" fill="none" stroke="#0000ff" stroke-width="1.4" stroke-linejoin="round"/>
<polyline points="312.6,201.92 317.77,189.36 322.93,164.36 328.1,141.9 333.27,142.86 338.43,142.38 343.6,137.43 348.76,128.61 353.93,127.89 359.09,133.08 364.26,107.48 369.42,119.44 374.59,119.92 379.75,114.37 384.92,134.89 390.08,157.36 395.25,195.39 400.42,173.05 405.58,228.97 410.75,194.43" fill="none" stroke="#0000ff" stroke-width="1.4" stroke-linejoin="round"/>
<polyline points="436.57,235.73 441.74,211.7 446.9,194.67 452.07,182.35 457.24,171.12 462.4,163.15 467.57,148.18 472.73,144.92 477.9,142.86 483.06,143.59 488.23,158.08 493.39,184.04 498.56,149.87 503.72,163.64 508.89,161.58 514.05,124.39 519.22,143.59 524.39,159.89 529.55,174.38 534.72,188.75" fill="none" stroke="#0000ff" stroke-width="1.4" stroke-linejoin="round"/>
<polyline points="560.54,167.38 565.71,158.56 570.87,141.9 576.04,131.15 581.21,125.35 586.37,114.12 591.54,111.71 596.7,103.13 601.87,101.2 607.03,114.97 612.2,105.43 617.36,102.41 622.53,114.12 627.69,131.15 632.86,134.89 638.02,136.1 643.19,154.82 648.36,145.64 653.52,161.58 658.69,192.26" fill="none" stroke="#0000ff" stroke-width="1.4" stroke-linejoin="round"/>
<rect x="61.01" y="175.78" width="7.3" height="7.1" fill="none" stroke="#0000ff" stroke-width="1.65" stroke-linejoin="round"/>
<rect x="66.18" y="166.61" width="7.3" height="7.1" fill="none" stroke="#0000ff" stroke-width="1.65" stroke-linejoin="round"/>
<rect x="71.34" y="157.43" width="7.3" height="7.1" fill="none" stroke="#0000ff" stroke-width="1.65" stroke-linejoin="round"/>
<rect x="76.51" y="147.89" width="7.3" height="7.1" fill="none" stroke="#0000ff" stroke-width="1.65" stroke-linejoin="round"/>
<rect x="81.68" y="139.44" width="7.3" height="7.1" fill="none" stroke="#0000ff" stroke-width="1.65" stroke-linejoin="round"/>
<rect x="86.84" y="133.52" width="7.3" height="7.1" fill="none" stroke="#0000ff" stroke-width="1.65" stroke-linejoin="round"/>
<rect x="92.01" y="124.34" width="7.3" height="7.1" fill="none" stroke="#0000ff" stroke-width="1.65" stroke-linejoin="round"/>
<rect x="97.17" y="115.4" width="7.3" height="7.1" fill="none" stroke="#0000ff" stroke-width="1.65" stroke-linejoin="round"/>
<rect x="102.34" y="109.85" width="7.3" height="7.1" fill="none" stroke="#0000ff" stroke-width="1.65" stroke-linejoin="round"/>
<rect x="107.5" y="110.69" width="7.3" height="7.1" fill="none" stroke="#0000ff" stroke-width="1.65" stroke-linejoin="round"/>
<rect x="112.67" y="75.43" width="7.3" height="7.1" fill="none" stroke="#0000ff" stroke-width="1.65" stroke-linejoin="round"/>
<rect x="117.83" y="66.13" width="7.3" height="7.1" fill="none" stroke="#0000ff" stroke-width="1.65" stroke-linejoin="round"/>
<rect x="123" y="89.8" width="7.3" height="7.1" fill="none" stroke="#0000ff" stroke-width="1.65" stroke-linejoin="round"/>
<rect x="128.16" y="89.08" width="7.3" height="7.1" fill="none" stroke="#0000ff" stroke-width="1.65" stroke-linejoin="round"/>
<rect x="133.33" y="108.04" width="7.3" height="7.1" fill="none" stroke="#0000ff" stroke-width="1.65" stroke-linejoin="round"/>
<rect x="138.49" y="107.55" width="7.3" height="7.1" fill="none" stroke="#0000ff" stroke-width="1.65" stroke-linejoin="round"/>
<rect x="143.66" y="127" width="7.3" height="7.1" fill="none" stroke="#0000ff" stroke-width="1.65" stroke-linejoin="round"/>
<rect x="148.83" y="91.13" width="7.3" height="7.1" fill="none" stroke="#0000ff" stroke-width="1.65" stroke-linejoin="round"/>
<rect x="153.99" y="99.1" width="7.3" height="7.1" fill="none" stroke="#0000ff" stroke-width="1.65" stroke-linejoin="round"/>
<rect x="159.16" y="96.2" width="7.3" height="7.1" fill="none" stroke="#0000ff" stroke-width="1.65" stroke-linejoin="round"/>
<rect x="184.98" y="188.58" width="7.3" height="7.1" fill="none" stroke="#0000ff" stroke-width="1.65" stroke-linejoin="round"/>
<rect x="190.15" y="174.58" width="7.3" height="7.1" fill="none" stroke="#0000ff" stroke-width="1.65" stroke-linejoin="round"/>
<rect x="195.31" y="149.1" width="7.3" height="7.1" fill="none" stroke="#0000ff" stroke-width="1.65" stroke-linejoin="round"/>
<rect x="200.48" y="127.12" width="7.3" height="7.1" fill="none" stroke="#0000ff" stroke-width="1.65" stroke-linejoin="round"/>
<rect x="205.65" y="122.05" width="7.3" height="7.1" fill="none" stroke="#0000ff" stroke-width="1.65" stroke-linejoin="round"/>
<rect x="210.81" y="110.82" width="7.3" height="7.1" fill="none" stroke="#0000ff" stroke-width="1.65" stroke-linejoin="round"/>
<rect x="215.98" y="111.9" width="7.3" height="7.1" fill="none" stroke="#0000ff" stroke-width="1.65" stroke-linejoin="round"/>
<rect x="221.14" y="113.11" width="7.3" height="7.1" fill="none" stroke="#0000ff" stroke-width="1.65" stroke-linejoin="round"/>
<rect x="226.31" y="114.68" width="7.3" height="7.1" fill="none" stroke="#0000ff" stroke-width="1.65" stroke-linejoin="round"/>
<rect x="231.47" y="125.06" width="7.3" height="7.1" fill="none" stroke="#0000ff" stroke-width="1.65" stroke-linejoin="round"/>
<rect x="236.64" y="128.81" width="7.3" height="7.1" fill="none" stroke="#0000ff" stroke-width="1.65" stroke-linejoin="round"/>
<rect x="241.8" y="158.76" width="7.3" height="7.1" fill="none" stroke="#0000ff" stroke-width="1.65" stroke-linejoin="round"/>
<rect x="246.97" y="141.85" width="7.3" height="7.1" fill="none" stroke="#0000ff" stroke-width="1.65" stroke-linejoin="round"/>
<rect x="252.13" y="153.81" width="7.3" height="7.1" fill="none" stroke="#0000ff" stroke-width="1.65" stroke-linejoin="round"/>
<rect x="257.3" y="148.85" width="7.3" height="7.1" fill="none" stroke="#0000ff" stroke-width="1.65" stroke-linejoin="round"/>
<rect x="262.46" y="157.55" width="7.3" height="7.1" fill="none" stroke="#0000ff" stroke-width="1.65" stroke-linejoin="round"/>
<rect x="267.63" y="163.1" width="7.3" height="7.1" fill="none" stroke="#0000ff" stroke-width="1.65" stroke-linejoin="round"/>
<rect x="272.8" y="200.54" width="7.3" height="7.1" fill="none" stroke="#0000ff" stroke-width="1.65" stroke-linejoin="round"/>
<rect x="277.96" y="212.74" width="7.3" height="7.1" fill="none" stroke="#0000ff" stroke-width="1.65" stroke-linejoin="round"/>
<rect x="283.13" y="217.45" width="7.3" height="7.1" fill="none" stroke="#0000ff" stroke-width="1.65" stroke-linejoin="round"/>
<rect x="308.95" y="198.37" width="7.3" height="7.1" fill="none" stroke="#0000ff" stroke-width="1.65" stroke-linejoin="round"/>
<rect x="314.12" y="185.81" width="7.3" height="7.1" fill="none" stroke="#0000ff" stroke-width="1.65" stroke-linejoin="round"/>
<rect x="319.28" y="160.81" width="7.3" height="7.1" fill="none" stroke="#0000ff" stroke-width="1.65" stroke-linejoin="round"/>
<rect x="324.45" y="138.35" width="7.3" height="7.1" fill="none" stroke="#0000ff" stroke-width="1.65" stroke-linejoin="round"/>
<rect x="329.62" y="139.31" width="7.3" height="7.1" fill="none" stroke="#0000ff" stroke-width="1.65" stroke-linejoin="round"/>
<rect x="334.78" y="138.83" width="7.3" height="7.1" fill="none" stroke="#0000ff" stroke-width="1.65" stroke-linejoin="round"/>
<rect x="339.95" y="133.88" width="7.3" height="7.1" fill="none" stroke="#0000ff" stroke-width="1.65" stroke-linejoin="round"/>
<rect x="345.11" y="125.06" width="7.3" height="7.1" fill="none" stroke="#0000ff" stroke-width="1.65" stroke-linejoin="round"/>
<rect x="350.28" y="124.34" width="7.3" height="7.1" fill="none" stroke="#0000ff" stroke-width="1.65" stroke-linejoin="round"/>
<rect x="355.44" y="129.53" width="7.3" height="7.1" fill="none" stroke="#0000ff" stroke-width="1.65" stroke-linejoin="round"/>
<rect x="360.61" y="103.93" width="7.3" height="7.1" fill="none" stroke="#0000ff" stroke-width="1.65" stroke-linejoin="round"/>
<rect x="365.77" y="115.89" width="7.3" height="7.1" fill="none" stroke="#0000ff" stroke-width="1.65" stroke-linejoin="round"/>
<rect x="370.94" y="116.37" width="7.3" height="7.1" fill="none" stroke="#0000ff" stroke-width="1.65" stroke-linejoin="round"/>
<rect x="376.1" y="110.82" width="7.3" height="7.1" fill="none" stroke="#0000ff" stroke-width="1.65" stroke-linejoin="round"/>
<rect x="381.27" y="131.34" width="7.3" height="7.1" fill="none" stroke="#0000ff" stroke-width="1.65" stroke-linejoin="round"/>
<rect x="386.43" y="153.81" width="7.3" height="7.1" fill="none" stroke="#0000ff" stroke-width="1.65" stroke-linejoin="round"/>
<rect x="391.6" y="191.84" width="7.3" height="7.1" fill="none" stroke="#0000ff" stroke-width="1.65" stroke-linejoin="round"/>
<rect x="396.77" y="169.5" width="7.3" height="7.1" fill="none" stroke="#0000ff" stroke-width="1.65" stroke-linejoin="round"/>
<rect x="401.93" y="225.42" width="7.3" height="7.1" fill="none" stroke="#0000ff" stroke-width="1.65" stroke-linejoin="round"/>
<rect x="407.1" y="190.88" width="7.3" height="7.1" fill="none" stroke="#0000ff" stroke-width="1.65" stroke-linejoin="round"/>
<rect x="432.92" y="232.18" width="7.3" height="7.1" fill="none" stroke="#0000ff" stroke-width="1.65" stroke-linejoin="round"/>
<rect x="438.09" y="208.15" width="7.3" height="7.1" fill="none" stroke="#0000ff" stroke-width="1.65" stroke-linejoin="round"/>
<rect x="443.25" y="191.12" width="7.3" height="7.1" fill="none" stroke="#0000ff" stroke-width="1.65" stroke-linejoin="round"/>
<rect x="448.42" y="178.8" width="7.3" height="7.1" fill="none" stroke="#0000ff" stroke-width="1.65" stroke-linejoin="round"/>
<rect x="453.59" y="167.57" width="7.3" height="7.1" fill="none" stroke="#0000ff" stroke-width="1.65" stroke-linejoin="round"/>
<rect x="458.75" y="159.6" width="7.3" height="7.1" fill="none" stroke="#0000ff" stroke-width="1.65" stroke-linejoin="round"/>
<rect x="463.92" y="144.63" width="7.3" height="7.1" fill="none" stroke="#0000ff" stroke-width="1.65" stroke-linejoin="round"/>
<rect x="469.08" y="141.37" width="7.3" height="7.1" fill="none" stroke="#0000ff" stroke-width="1.65" stroke-linejoin="round"/>
<rect x="474.25" y="139.31" width="7.3" height="7.1" fill="none" stroke="#0000ff" stroke-width="1.65" stroke-linejoin="round"/>
<rect x="479.41" y="140.04" width="7.3" height="7.1" fill="none" stroke="#0000ff" stroke-width="1.65" stroke-linejoin="round"/>
<rect x="484.58" y="154.53" width="7.3" height="7.1" fill="none" stroke="#0000ff" stroke-width="1.65" stroke-linejoin="round"/>
<rect x="489.74" y="180.49" width="7.3" height="7.1" fill="none" stroke="#0000ff" stroke-width="1.65" stroke-linejoin="round"/>
<rect x="494.91" y="146.32" width="7.3" height="7.1" fill="none" stroke="#0000ff" stroke-width="1.65" stroke-linejoin="round"/>
<rect x="500.07" y="160.09" width="7.3" height="7.1" fill="none" stroke="#0000ff" stroke-width="1.65" stroke-linejoin="round"/>
<rect x="505.24" y="158.03" width="7.3" height="7.1" fill="none" stroke="#0000ff" stroke-width="1.65" stroke-linejoin="round"/>
<rect x="510.4" y="120.84" width="7.3" height="7.1" fill="none" stroke="#0000ff" stroke-width="1.65" stroke-linejoin="round"/>
<rect x="515.57" y="140.04" width="7.3" height="7.1" fill="none" stroke="#0000ff" stroke-width="1.65" stroke-linejoin="round"/>
<rect x="520.74" y="156.34" width="7.3" height="7.1" fill="none" stroke="#0000ff" stroke-width="1.65" stroke-linejoin="round"/>
<rect x="525.9" y="170.83" width="7.3" height="7.1" fill="none" stroke="#0000ff" stroke-width="1.65" stroke-linejoin="round"/>
<rect x="531.07" y="185.2" width="7.3" height="7.1" fill="none" stroke="#0000ff" stroke-width="1.65" stroke-linejoin="round"/>
<rect x="556.89" y="163.83" width="7.3" height="7.1" fill="none" stroke="#0000ff" stroke-width="1.65" stroke-linejoin="round"/>
<rect x="562.06" y="155.01" width="7.3" height="7.1" fill="none" stroke="#0000ff" stroke-width="1.65" stroke-linejoin="round"/>
<rect x="567.22" y="138.35" width="7.3" height="7.1" fill="none" stroke="#0000ff" stroke-width="1.65" stroke-linejoin="round"/>
<rect x="572.39" y="127.6" width="7.3" height="7.1" fill="none" stroke="#0000ff" stroke-width="1.65" stroke-linejoin="round"/>
<rect x="577.56" y="121.8" width="7.3" height="7.1" fill="none" stroke="#0000ff" stroke-width="1.65" stroke-linejoin="round"/>
<rect x="582.72" y="110.57" width="7.3" height="7.1" fill="none" stroke="#0000ff" stroke-width="1.65" stroke-linejoin="round"/>
<rect x="587.89" y="108.16" width="7.3" height="7.1" fill="none" stroke="#0000ff" stroke-width="1.65" stroke-linejoin="round"/>
<rect x="593.05" y="99.58" width="7.3" height="7.1" fill="none" stroke="#0000ff" stroke-width="1.65" stroke-linejoin="round"/>
<rect x="598.22" y="97.65" width="7.3" height="7.1" fill="none" stroke="#0000ff" stroke-width="1.65" stroke-linejoin="round"/>
<rect x="603.38" y="111.42" width="7.3" height="7.1" fill="none" stroke="#0000ff" stroke-width="1.65" stroke-linejoin="round"/>
<rect x="608.55" y="101.88" width="7.3" height="7.1" fill="none" stroke="#0000ff" stroke-width="1.65" stroke-linejoin="round"/>
<rect x="613.71" y="98.86" width="7.3" height="7.1" fill="none" stroke="#0000ff" stroke-width="1.65" stroke-linejoin="round"/>
<rect x="618.88" y="110.57" width="7.3" height="7.1" fill="none" stroke="#0000ff" stroke-width="1.65" stroke-linejoin="round"/>
<rect x="624.04" y="127.6" width="7.3" height="7.1" fill="none" stroke="#0000ff" stroke-width="1.65" stroke-linejoin="round"/>
<rect x="629.21" y="131.34" width="7.3" height="7.1" fill="none" stroke="#0000ff" stroke-width="1.65" stroke-linejoin="round"/>
<rect x="634.37" y="132.55" width="7.3" height="7.1" fill="none" stroke="#0000ff" stroke-width="1.65" stroke-linejoin="round"/>
<rect x="639.54" y="151.27" width="7.3" height="7.1" fill="none" stroke="#0000ff" stroke-width="1.65" stroke-linejoin="round"/>
<rect x="644.71" y="142.09" width="7.3" height="7.1" fill="none" stroke="#0000ff" stroke-width="1.65" stroke-linejoin="round"/>
<rect x="649.87" y="158.03" width="7.3" height="7.1" fill="none" stroke="#0000ff" stroke-width="1.65" stroke-linejoin="round"/>
<rect x="655.04" y="188.71" width="7.3" height="7.1" fill="none" stroke="#0000ff" stroke-width="1.65" stroke-linejoin="round"/>
<path d="M51.75 8.55V312.5" stroke="#6a6a6a" stroke-width="1.5" fill="none"/>
<path d="M51.05 311H662.4" stroke="#6a6a6a" stroke-width="1.6" fill="none"/>
<path d="M48.55 311H51.75" stroke="#555" stroke-width="1.25" fill="none"/>
<text x="43.1" y="314" text-anchor="end" class="yt">0</text>
<path d="M48.55 250.51H51.75" stroke="#555" stroke-width="1.25" fill="none"/>
<text x="43.1" y="253.51" text-anchor="end" class="yt">500</text>
<path d="M48.55 190.02H51.75" stroke="#555" stroke-width="1.25" fill="none"/>
<text x="43.1" y="193.02" text-anchor="end" class="yt">1000</text>
<path d="M48.55 129.53H51.75" stroke="#555" stroke-width="1.25" fill="none"/>
<text x="43.1" y="132.53" text-anchor="end" class="yt">1500</text>
<path d="M48.55 69.04H51.75" stroke="#555" stroke-width="1.25" fill="none"/>
<text x="43.1" y="72.04" text-anchor="end" class="yt">2000</text>
<path d="M48.55 8.55H51.75" stroke="#555" stroke-width="1.25" fill="none"/>
<text x="43.1" y="11.55" text-anchor="end" class="yt">2500</text>
<path d="M175.6 310.6V343" stroke="#262626" stroke-width="1.2" fill="none"/>
<path d="M299.5 310.6V343" stroke="#262626" stroke-width="1.2" fill="none"/>
<path d="M423.5 310.6V343" stroke="#262626" stroke-width="1.2" fill="none"/>
<path d="M547.6 310.6V343" stroke="#262626" stroke-width="1.2" fill="none"/>
<text transform="translate(67.51 316) rotate(-90)" text-anchor="end" class="xt">1</text>
<text transform="translate(88.18 316) rotate(-90)" text-anchor="end" class="xt">5</text>
<text transform="translate(114 316) rotate(-90)" text-anchor="end" class="xt">10</text>
<text transform="translate(139.83 316) rotate(-90)" text-anchor="end" class="xt">15</text>
<text transform="translate(165.66 316) rotate(-90)" text-anchor="end" class="xt">20</text>
<text x="113.73" y="340.9" text-anchor="middle" class="day">Mon</text>
<text transform="translate(191.48 316) rotate(-90)" text-anchor="end" class="xt">1</text>
<text transform="translate(212.15 316) rotate(-90)" text-anchor="end" class="xt">5</text>
<text transform="translate(237.97 316) rotate(-90)" text-anchor="end" class="xt">10</text>
<text transform="translate(263.8 316) rotate(-90)" text-anchor="end" class="xt">15</text>
<text transform="translate(289.63 316) rotate(-90)" text-anchor="end" class="xt">20</text>
<text x="237.7" y="340.9" text-anchor="middle" class="day">Tue</text>
<text transform="translate(315.45 316) rotate(-90)" text-anchor="end" class="xt">1</text>
<text transform="translate(336.12 316) rotate(-90)" text-anchor="end" class="xt">5</text>
<text transform="translate(361.94 316) rotate(-90)" text-anchor="end" class="xt">10</text>
<text transform="translate(387.77 316) rotate(-90)" text-anchor="end" class="xt">15</text>
<text transform="translate(413.6 316) rotate(-90)" text-anchor="end" class="xt">20</text>
<text x="361.68" y="340.9" text-anchor="middle" class="day">Wed</text>
<text transform="translate(439.42 316) rotate(-90)" text-anchor="end" class="xt">1</text>
<text transform="translate(460.09 316) rotate(-90)" text-anchor="end" class="xt">5</text>
<text transform="translate(485.91 316) rotate(-90)" text-anchor="end" class="xt">10</text>
<text transform="translate(511.74 316) rotate(-90)" text-anchor="end" class="xt">15</text>
<text transform="translate(537.57 316) rotate(-90)" text-anchor="end" class="xt">20</text>
<text x="485.64" y="340.9" text-anchor="middle" class="day">Thu</text>
<text transform="translate(563.39 316) rotate(-90)" text-anchor="end" class="xt">1</text>
<text transform="translate(584.06 316) rotate(-90)" text-anchor="end" class="xt">5</text>
<text transform="translate(609.88 316) rotate(-90)" text-anchor="end" class="xt">10</text>
<text transform="translate(635.71 316) rotate(-90)" text-anchor="end" class="xt">15</text>
<text transform="translate(661.54 316) rotate(-90)" text-anchor="end" class="xt">20</text>
<text x="604.47" y="340.9" text-anchor="middle" class="day">Fri</text>
<path d="M552.5 25.8H569.7" stroke="#7d7d7d" stroke-width="1.5"/>
<circle cx="561.2" cy="25.8" r="2.5" fill="none" stroke="#7d7d7d" stroke-width="1.5"/>
<text x="572.1" y="29" class="lg">Placebo</text>
<path d="M617.7 25.8H635.2" stroke="#0000ff" stroke-width="1.5"/>
<rect x="623.6" y="23" width="5.6" height="5.6" fill="none" stroke="#0000ff" stroke-width="1.6"/>
<text x="636.7" y="29" class="lg">DS+</text>
<text x="0.6" y="10.9" class="pl">a</text>
<text transform="translate(16.2 159.55) rotate(-90)" text-anchor="middle" class="ytitle">estimated MEDI [lx]</text>
<text x="345.05" y="362.0" text-anchor="middle" class="xtitle">weekday</text>
</g>
<g id="panel-b">
<path d="M63.22 667.78V672.75M61.02 667.78H65.42M61.02 672.75H65.42M68.31 668.28V672.25M66.11 668.28H70.51M66.11 672.25H70.51M73.39 665.2V670.16M71.19 665.2H75.59M71.19 670.16H75.59M78.48 665V669.96M76.28 665H80.68M76.28 669.96H80.68M83.57 665.49V669.87M81.37 665.49H85.77M81.37 669.87H85.77M88.66 662.51V668.08M86.46 662.51H90.86M86.46 668.08H90.86M93.74 657.64V665.59M91.54 657.64H95.94M91.54 665.59H95.94M98.83 655.46V664.4M96.63 655.46H101.03M96.63 664.4H101.03M103.92 655.96V663.9M101.72 655.96H106.12M101.72 663.9H106.12M109.01 652.38V662.31M106.81 652.38H111.21M106.81 662.31H111.21M114.09 650.69V660.63M111.89 650.69H116.29M111.89 660.63H116.29M119.18 647.31V658.24M116.98 647.31H121.38M116.98 658.24H121.38M124.27 643.64V655.56M122.07 643.64H126.47M122.07 655.56H126.47M129.36 651.49V661.42M127.16 651.49H131.56M127.16 661.42H131.56M134.44 655.46V664.4M132.24 655.46H136.64M132.24 664.4H136.64M139.53 651.09V664M137.33 651.09H141.73M137.33 664H141.73M144.62 651.09V664M142.42 651.09H146.82M142.42 664H146.82M149.71 652.18V665.1M147.51 652.18H151.91M147.51 665.1H151.91M154.79 657.74V667.68M152.59 657.74H156.99M152.59 667.68H156.99M159.88 653.87V666.79M157.68 653.87H162.08M157.68 666.79H162.08M185.32 671.16V674.14M183.12 671.16H187.52M183.12 674.14H187.52M190.41 670.66V673.64M188.21 670.66H192.61M188.21 673.64H192.61M195.49 668.37V672.35M193.29 668.37H197.69M193.29 672.35H197.69M200.58 661.52V670.46M198.38 661.52H202.78M198.38 670.46H202.78M205.67 658.44V668.37M203.47 658.44H207.87M203.47 668.37H207.87M210.76 654.96V666.88M208.56 654.96H212.96M208.56 666.88H212.96M215.84 650.29V664.2M213.64 650.29H218.04M213.64 664.2H218.04M220.93 650.69V664.6M218.73 650.69H223.13M218.73 664.6H223.13M226.02 650.79V665.69M223.82 650.79H228.22M223.82 665.69H228.22M231.11 651.29V666.79M228.91 651.29H233.31M228.91 666.79H233.31M236.19 651.78V666.69M233.99 651.78H238.39M233.99 666.69H238.39M241.28 624.66V661.42M239.08 624.66H243.48M239.08 661.42H243.48M246.37 640.16V662.41M244.17 640.16H248.57M244.17 662.41H248.57M251.46 641.55V663.41M249.26 641.55H253.66M249.26 663.41H253.66M256.54 645.92V664.8M254.34 645.92H258.74M254.34 664.8H258.74M261.63 652.38V667.28M259.43 652.38H263.83M259.43 667.28H263.83M266.72 650.99V667.88M264.52 650.99H268.92M264.52 667.88H268.92M271.81 650.59V669.07M269.61 650.59H274.01M269.61 669.07H274.01M276.89 652.88V669.77M274.69 652.88H279.09M274.69 669.77H279.09M281.98 656.45V670.76M279.78 656.45H284.18M279.78 670.76H284.18M307.42 668.87V673.84M305.22 668.87H309.62M305.22 673.84H309.62M312.51 668.87V673.84M310.31 668.87H314.71M310.31 673.84H314.71M317.59 666.88V671.85M315.39 666.88H319.79M315.39 671.85H319.79M322.68 661.02V668.97M320.48 661.02H324.88M320.48 668.97H324.88M327.77 648.21V669.07M325.57 648.21H329.97M325.57 669.07H329.97M332.86 654.86V668.18M330.66 654.86H335.06M330.66 668.18H335.06M337.94 648.8V666.09M335.74 648.8H340.14M335.74 666.09H340.14M343.03 644.93V664.2M340.83 644.93H345.23M340.83 664.2H345.23M348.12 644.63V664.1M345.92 644.63H350.32M345.92 664.1H350.32M353.21 643.93V663.41M351.01 643.93H355.41M351.01 663.41H355.41M358.29 635.49V661.32M356.09 635.49H360.49M356.09 661.32H360.49M363.38 596.45V655.06M361.18 596.45H365.58M361.18 655.06H365.58M368.47 609.96V655.66M366.27 609.96H370.67M366.27 655.66H370.67M373.56 624.26V656.06M371.36 624.26H375.76M371.36 656.06H375.76M378.64 612.34V658.04M376.44 612.34H380.84M376.44 658.04H380.84M383.73 607.27V662.31M381.53 607.27H385.93M381.53 662.31H385.93M388.82 593.46V663.01M386.62 593.46H391.02M386.62 663.01H391.02M393.91 642.84V668.67M391.71 642.84H396.11M391.71 668.67H396.11M398.99 579.75V670.56M396.79 579.75H401.19M396.79 670.56H401.19M404.08 643.04V670.86M401.88 643.04H406.28M401.88 670.86H406.28M429.52 662.22V678.11M427.32 662.22H431.72M427.32 678.11H431.72M434.61 670.26V676.22M432.41 670.26H436.81M432.41 676.22H436.81M439.69 668.57V674.53M437.49 668.57H441.89M437.49 674.53H441.89M444.78 656.55V673.44M442.58 656.55H446.98M442.58 673.44H446.98M449.87 645.03V671.85M447.67 645.03H452.07M447.67 671.85H452.07M454.96 658.24V670.56M452.76 658.24H457.16M452.76 670.56H457.16M460.04 652.98V667.28M457.84 652.98H462.24M457.84 667.28H462.24M465.13 647.71V666.19M462.93 647.71H467.33M462.93 666.19H467.33M470.22 636.48V667.28M468.02 636.48H472.42M468.02 667.28H472.42M475.31 634.2V666.98M473.11 634.2H477.51M473.11 666.98H477.51M480.39 589.29V663.8M478.19 589.29H482.59M478.19 663.8H482.59M485.48 545.78V663.01M483.28 545.78H487.68M483.28 663.01H487.68M490.57 629.83V663.61M488.37 629.83H492.77M488.37 663.61H492.77M495.66 624.76V665.1M493.46 624.76H497.86M493.46 665.1H497.86M500.74 621.78V667.08M498.54 621.78H502.94M498.54 667.08H502.94M505.83 647.71V667.18M503.63 647.71H508.03M503.63 667.18H508.03M510.92 651.68V667.18M508.72 651.68H513.12M508.72 667.18H513.12M516.01 654.17V668.47M513.81 654.17H518.21M513.81 668.47H518.21M521.09 576.38V665.39M518.89 576.38H523.29M518.89 665.39H523.29M526.18 648.01V668.87M523.98 648.01H528.38M523.98 668.87H528.38M551.62 669.07V674.04M549.42 669.07H553.82M549.42 674.04H553.82M556.71 668.97V673.34M554.51 668.97H558.91M554.51 673.34H558.91M561.79 665.69V671.26M559.59 665.69H563.99M559.59 671.26H563.99M566.88 661.02V668.97M564.68 661.02H569.08M564.68 668.97H569.08M571.97 657.45V666.39M569.77 657.45H574.17M569.77 666.39H574.17M577.06 654.47V664.4M574.86 654.47H579.26M574.86 664.4H579.26M582.14 646.12V660.03M579.94 646.12H584.34M579.94 660.03H584.34M587.23 641.55V658.44M585.03 641.55H589.43M585.03 658.44H589.43M592.32 638.97V657.45M590.12 638.97H594.52M590.12 657.45H594.52M597.41 638.57V657.84M595.21 638.57H599.61M595.21 657.84H599.61M602.49 639.27V657.15M600.29 639.27H604.69M600.29 657.15H604.69M607.58 631.12V652.98M605.38 631.12H609.78M605.38 652.98H609.78M612.67 625.16V649.4M610.47 625.16H614.87M610.47 649.4H614.87M617.76 637.77V655.66M615.56 637.77H619.96M615.56 655.66H619.96M622.84 646.82V659.73M620.64 646.82H625.04M620.64 659.73H625.04M627.93 650V661.52M625.73 650H630.13M625.73 661.52H630.13M633.02 643.34V661.22M630.82 643.34H635.22M630.82 661.22H635.22M638.11 657.84V666.79M635.91 657.84H640.31M635.91 666.79H640.31M643.19 659.43V667.78M640.99 659.43H645.39M640.99 667.78H645.39M648.28 652.98V665.89M646.08 652.98H650.48M646.08 665.89H650.48" fill="none" stroke="#adadad" stroke-width="0.9"/>
<polyline points="63.22,670.26 68.31,670.26 73.39,667.68 78.48,667.48 83.57,667.68 88.66,665.29 93.74,661.62 98.83,659.93 103.92,659.93 109.01,657.35 114.09,655.66 119.18,652.78 124.27,649.6 129.36,656.45 134.44,659.93 139.53,657.55 144.62,657.55 149.71,658.64 154.79,662.71 159.88,660.33" fill="none" stroke="#7d7d7d" stroke-width="1.5" stroke-linejoin="round"/>
<polyline points="185.32,672.65 190.41,672.15 195.49,670.36 200.58,665.99 205.67,663.41 210.76,660.92 215.84,657.25 220.93,657.64 226.02,658.24 231.11,659.04 236.19,659.23 241.28,643.04 246.37,651.29 251.46,652.48 256.54,655.36 261.63,659.83 266.72,659.43 271.81,659.83 276.89,661.32 281.98,663.61" fill="none" stroke="#7d7d7d" stroke-width="1.5" stroke-linejoin="round"/>
<polyline points="307.42,671.36 312.51,671.36 317.59,669.37 322.68,665 327.77,658.64 332.86,661.52 337.94,657.45 343.03,654.57 348.12,654.37 353.21,653.67 358.29,648.41 363.38,625.75 368.47,632.81 373.56,640.16 378.64,635.19 383.73,634.79 388.82,628.24 393.91,655.76 398.99,625.16 404.08,656.95" fill="none" stroke="#7d7d7d" stroke-width="1.5" stroke-linejoin="round"/>
<polyline points="429.52,670.16 434.61,673.24 439.69,671.55 444.78,665 449.87,658.44 454.96,664.4 460.04,660.13 465.13,656.95 470.22,651.88 475.31,650.59 480.39,626.55 485.48,604.39 490.57,646.72 495.66,644.93 500.74,644.43 505.83,657.45 510.92,659.43 516.01,661.32 521.09,620.89 526.18,658.44" fill="none" stroke="#7d7d7d" stroke-width="1.5" stroke-linejoin="round"/>
<polyline points="551.62,671.55 556.71,671.16 561.79,668.47 566.88,665 571.97,661.92 577.06,659.43 582.14,653.07 587.23,650 592.32,648.21 597.41,648.21 602.49,648.21 607.58,642.05 612.67,637.28 617.76,646.72 622.84,653.27 627.93,655.76 633.02,652.28 638.11,662.31 643.19,663.61 648.28,659.43" fill="none" stroke="#7d7d7d" stroke-width="1.5" stroke-linejoin="round"/>
<circle cx="63.22" cy="670.26" r="2.8" fill="#e4e4e4" fill-opacity="0.3" stroke="#7d7d7d" stroke-width="1.55"/>
<circle cx="68.31" cy="670.26" r="2.8" fill="#e4e4e4" fill-opacity="0.3" stroke="#7d7d7d" stroke-width="1.55"/>
<circle cx="73.39" cy="667.68" r="2.8" fill="#e4e4e4" fill-opacity="0.3" stroke="#7d7d7d" stroke-width="1.55"/>
<circle cx="78.48" cy="667.48" r="2.8" fill="#e4e4e4" fill-opacity="0.3" stroke="#7d7d7d" stroke-width="1.55"/>
<circle cx="83.57" cy="667.68" r="2.8" fill="#e4e4e4" fill-opacity="0.3" stroke="#7d7d7d" stroke-width="1.55"/>
<circle cx="88.66" cy="665.29" r="2.8" fill="#e4e4e4" fill-opacity="0.3" stroke="#7d7d7d" stroke-width="1.55"/>
<circle cx="93.74" cy="661.62" r="2.8" fill="#e4e4e4" fill-opacity="0.3" stroke="#7d7d7d" stroke-width="1.55"/>
<circle cx="98.83" cy="659.93" r="2.8" fill="#e4e4e4" fill-opacity="0.3" stroke="#7d7d7d" stroke-width="1.55"/>
<circle cx="103.92" cy="659.93" r="2.8" fill="#e4e4e4" fill-opacity="0.3" stroke="#7d7d7d" stroke-width="1.55"/>
<circle cx="109.01" cy="657.35" r="2.8" fill="#e4e4e4" fill-opacity="0.3" stroke="#7d7d7d" stroke-width="1.55"/>
<circle cx="114.09" cy="655.66" r="2.8" fill="#e4e4e4" fill-opacity="0.3" stroke="#7d7d7d" stroke-width="1.55"/>
<circle cx="119.18" cy="652.78" r="2.8" fill="#e4e4e4" fill-opacity="0.3" stroke="#7d7d7d" stroke-width="1.55"/>
<circle cx="124.27" cy="649.6" r="2.8" fill="#e4e4e4" fill-opacity="0.3" stroke="#7d7d7d" stroke-width="1.55"/>
<circle cx="129.36" cy="656.45" r="2.8" fill="#e4e4e4" fill-opacity="0.3" stroke="#7d7d7d" stroke-width="1.55"/>
<circle cx="134.44" cy="659.93" r="2.8" fill="#e4e4e4" fill-opacity="0.3" stroke="#7d7d7d" stroke-width="1.55"/>
<circle cx="139.53" cy="657.55" r="2.8" fill="#e4e4e4" fill-opacity="0.3" stroke="#7d7d7d" stroke-width="1.55"/>
<circle cx="144.62" cy="657.55" r="2.8" fill="#e4e4e4" fill-opacity="0.3" stroke="#7d7d7d" stroke-width="1.55"/>
<circle cx="149.71" cy="658.64" r="2.8" fill="#e4e4e4" fill-opacity="0.3" stroke="#7d7d7d" stroke-width="1.55"/>
<circle cx="154.79" cy="662.71" r="2.8" fill="#e4e4e4" fill-opacity="0.3" stroke="#7d7d7d" stroke-width="1.55"/>
<circle cx="159.88" cy="660.33" r="2.8" fill="#e4e4e4" fill-opacity="0.3" stroke="#7d7d7d" stroke-width="1.55"/>
<circle cx="185.32" cy="672.65" r="2.8" fill="#e4e4e4" fill-opacity="0.3" stroke="#7d7d7d" stroke-width="1.55"/>
<circle cx="190.41" cy="672.15" r="2.8" fill="#e4e4e4" fill-opacity="0.3" stroke="#7d7d7d" stroke-width="1.55"/>
<circle cx="195.49" cy="670.36" r="2.8" fill="#e4e4e4" fill-opacity="0.3" stroke="#7d7d7d" stroke-width="1.55"/>
<circle cx="200.58" cy="665.99" r="2.8" fill="#e4e4e4" fill-opacity="0.3" stroke="#7d7d7d" stroke-width="1.55"/>
<circle cx="205.67" cy="663.41" r="2.8" fill="#e4e4e4" fill-opacity="0.3" stroke="#7d7d7d" stroke-width="1.55"/>
<circle cx="210.76" cy="660.92" r="2.8" fill="#e4e4e4" fill-opacity="0.3" stroke="#7d7d7d" stroke-width="1.55"/>
<circle cx="215.84" cy="657.25" r="2.8" fill="#e4e4e4" fill-opacity="0.3" stroke="#7d7d7d" stroke-width="1.55"/>
<circle cx="220.93" cy="657.64" r="2.8" fill="#e4e4e4" fill-opacity="0.3" stroke="#7d7d7d" stroke-width="1.55"/>
<circle cx="226.02" cy="658.24" r="2.8" fill="#e4e4e4" fill-opacity="0.3" stroke="#7d7d7d" stroke-width="1.55"/>
<circle cx="231.11" cy="659.04" r="2.8" fill="#e4e4e4" fill-opacity="0.3" stroke="#7d7d7d" stroke-width="1.55"/>
<circle cx="236.19" cy="659.23" r="2.8" fill="#e4e4e4" fill-opacity="0.3" stroke="#7d7d7d" stroke-width="1.55"/>
<circle cx="241.28" cy="643.04" r="2.8" fill="#e4e4e4" fill-opacity="0.3" stroke="#7d7d7d" stroke-width="1.55"/>
<circle cx="246.37" cy="651.29" r="2.8" fill="#e4e4e4" fill-opacity="0.3" stroke="#7d7d7d" stroke-width="1.55"/>
<circle cx="251.46" cy="652.48" r="2.8" fill="#e4e4e4" fill-opacity="0.3" stroke="#7d7d7d" stroke-width="1.55"/>
<circle cx="256.54" cy="655.36" r="2.8" fill="#e4e4e4" fill-opacity="0.3" stroke="#7d7d7d" stroke-width="1.55"/>
<circle cx="261.63" cy="659.83" r="2.8" fill="#e4e4e4" fill-opacity="0.3" stroke="#7d7d7d" stroke-width="1.55"/>
<circle cx="266.72" cy="659.43" r="2.8" fill="#e4e4e4" fill-opacity="0.3" stroke="#7d7d7d" stroke-width="1.55"/>
<circle cx="271.81" cy="659.83" r="2.8" fill="#e4e4e4" fill-opacity="0.3" stroke="#7d7d7d" stroke-width="1.55"/>
<circle cx="276.89" cy="661.32" r="2.8" fill="#e4e4e4" fill-opacity="0.3" stroke="#7d7d7d" stroke-width="1.55"/>
<circle cx="281.98" cy="663.61" r="2.8" fill="#e4e4e4" fill-opacity="0.3" stroke="#7d7d7d" stroke-width="1.55"/>
<circle cx="307.42" cy="671.36" r="2.8" fill="#e4e4e4" fill-opacity="0.3" stroke="#7d7d7d" stroke-width="1.55"/>
<circle cx="312.51" cy="671.36" r="2.8" fill="#e4e4e4" fill-opacity="0.3" stroke="#7d7d7d" stroke-width="1.55"/>
<circle cx="317.59" cy="669.37" r="2.8" fill="#e4e4e4" fill-opacity="0.3" stroke="#7d7d7d" stroke-width="1.55"/>
<circle cx="322.68" cy="665" r="2.8" fill="#e4e4e4" fill-opacity="0.3" stroke="#7d7d7d" stroke-width="1.55"/>
<circle cx="327.77" cy="658.64" r="2.8" fill="#e4e4e4" fill-opacity="0.3" stroke="#7d7d7d" stroke-width="1.55"/>
<circle cx="332.86" cy="661.52" r="2.8" fill="#e4e4e4" fill-opacity="0.3" stroke="#7d7d7d" stroke-width="1.55"/>
<circle cx="337.94" cy="657.45" r="2.8" fill="#e4e4e4" fill-opacity="0.3" stroke="#7d7d7d" stroke-width="1.55"/>
<circle cx="343.03" cy="654.57" r="2.8" fill="#e4e4e4" fill-opacity="0.3" stroke="#7d7d7d" stroke-width="1.55"/>
<circle cx="348.12" cy="654.37" r="2.8" fill="#e4e4e4" fill-opacity="0.3" stroke="#7d7d7d" stroke-width="1.55"/>
<circle cx="353.21" cy="653.67" r="2.8" fill="#e4e4e4" fill-opacity="0.3" stroke="#7d7d7d" stroke-width="1.55"/>
<circle cx="358.29" cy="648.41" r="2.8" fill="#e4e4e4" fill-opacity="0.3" stroke="#7d7d7d" stroke-width="1.55"/>
<circle cx="363.38" cy="625.75" r="2.8" fill="#e4e4e4" fill-opacity="0.3" stroke="#7d7d7d" stroke-width="1.55"/>
<circle cx="368.47" cy="632.81" r="2.8" fill="#e4e4e4" fill-opacity="0.3" stroke="#7d7d7d" stroke-width="1.55"/>
<circle cx="373.56" cy="640.16" r="2.8" fill="#e4e4e4" fill-opacity="0.3" stroke="#7d7d7d" stroke-width="1.55"/>
<circle cx="378.64" cy="635.19" r="2.8" fill="#e4e4e4" fill-opacity="0.3" stroke="#7d7d7d" stroke-width="1.55"/>
<circle cx="383.73" cy="634.79" r="2.8" fill="#e4e4e4" fill-opacity="0.3" stroke="#7d7d7d" stroke-width="1.55"/>
<circle cx="388.82" cy="628.24" r="2.8" fill="#e4e4e4" fill-opacity="0.3" stroke="#7d7d7d" stroke-width="1.55"/>
<circle cx="393.91" cy="655.76" r="2.8" fill="#e4e4e4" fill-opacity="0.3" stroke="#7d7d7d" stroke-width="1.55"/>
<circle cx="398.99" cy="625.16" r="2.8" fill="#e4e4e4" fill-opacity="0.3" stroke="#7d7d7d" stroke-width="1.55"/>
<circle cx="404.08" cy="656.95" r="2.8" fill="#e4e4e4" fill-opacity="0.3" stroke="#7d7d7d" stroke-width="1.55"/>
<circle cx="429.52" cy="670.16" r="2.8" fill="#e4e4e4" fill-opacity="0.3" stroke="#7d7d7d" stroke-width="1.55"/>
<circle cx="434.61" cy="673.24" r="2.8" fill="#e4e4e4" fill-opacity="0.3" stroke="#7d7d7d" stroke-width="1.55"/>
<circle cx="439.69" cy="671.55" r="2.8" fill="#e4e4e4" fill-opacity="0.3" stroke="#7d7d7d" stroke-width="1.55"/>
<circle cx="444.78" cy="665" r="2.8" fill="#e4e4e4" fill-opacity="0.3" stroke="#7d7d7d" stroke-width="1.55"/>
<circle cx="449.87" cy="658.44" r="2.8" fill="#e4e4e4" fill-opacity="0.3" stroke="#7d7d7d" stroke-width="1.55"/>
<circle cx="454.96" cy="664.4" r="2.8" fill="#e4e4e4" fill-opacity="0.3" stroke="#7d7d7d" stroke-width="1.55"/>
<circle cx="460.04" cy="660.13" r="2.8" fill="#e4e4e4" fill-opacity="0.3" stroke="#7d7d7d" stroke-width="1.55"/>
<circle cx="465.13" cy="656.95" r="2.8" fill="#e4e4e4" fill-opacity="0.3" stroke="#7d7d7d" stroke-width="1.55"/>
<circle cx="470.22" cy="651.88" r="2.8" fill="#e4e4e4" fill-opacity="0.3" stroke="#7d7d7d" stroke-width="1.55"/>
<circle cx="475.31" cy="650.59" r="2.8" fill="#e4e4e4" fill-opacity="0.3" stroke="#7d7d7d" stroke-width="1.55"/>
<circle cx="480.39" cy="626.55" r="2.8" fill="#e4e4e4" fill-opacity="0.3" stroke="#7d7d7d" stroke-width="1.55"/>
<circle cx="485.48" cy="604.39" r="2.8" fill="#e4e4e4" fill-opacity="0.3" stroke="#7d7d7d" stroke-width="1.55"/>
<circle cx="490.57" cy="646.72" r="2.8" fill="#e4e4e4" fill-opacity="0.3" stroke="#7d7d7d" stroke-width="1.55"/>
<circle cx="495.66" cy="644.93" r="2.8" fill="#e4e4e4" fill-opacity="0.3" stroke="#7d7d7d" stroke-width="1.55"/>
<circle cx="500.74" cy="644.43" r="2.8" fill="#e4e4e4" fill-opacity="0.3" stroke="#7d7d7d" stroke-width="1.55"/>
<circle cx="505.83" cy="657.45" r="2.8" fill="#e4e4e4" fill-opacity="0.3" stroke="#7d7d7d" stroke-width="1.55"/>
<circle cx="510.92" cy="659.43" r="2.8" fill="#e4e4e4" fill-opacity="0.3" stroke="#7d7d7d" stroke-width="1.55"/>
<circle cx="516.01" cy="661.32" r="2.8" fill="#e4e4e4" fill-opacity="0.3" stroke="#7d7d7d" stroke-width="1.55"/>
<circle cx="521.09" cy="620.89" r="2.8" fill="#e4e4e4" fill-opacity="0.3" stroke="#7d7d7d" stroke-width="1.55"/>
<circle cx="526.18" cy="658.44" r="2.8" fill="#e4e4e4" fill-opacity="0.3" stroke="#7d7d7d" stroke-width="1.55"/>
<circle cx="551.62" cy="671.55" r="2.8" fill="#e4e4e4" fill-opacity="0.3" stroke="#7d7d7d" stroke-width="1.55"/>
<circle cx="556.71" cy="671.16" r="2.8" fill="#e4e4e4" fill-opacity="0.3" stroke="#7d7d7d" stroke-width="1.55"/>
<circle cx="561.79" cy="668.47" r="2.8" fill="#e4e4e4" fill-opacity="0.3" stroke="#7d7d7d" stroke-width="1.55"/>
<circle cx="566.88" cy="665" r="2.8" fill="#e4e4e4" fill-opacity="0.3" stroke="#7d7d7d" stroke-width="1.55"/>
<circle cx="571.97" cy="661.92" r="2.8" fill="#e4e4e4" fill-opacity="0.3" stroke="#7d7d7d" stroke-width="1.55"/>
<circle cx="577.06" cy="659.43" r="2.8" fill="#e4e4e4" fill-opacity="0.3" stroke="#7d7d7d" stroke-width="1.55"/>
<circle cx="582.14" cy="653.07" r="2.8" fill="#e4e4e4" fill-opacity="0.3" stroke="#7d7d7d" stroke-width="1.55"/>
<circle cx="587.23" cy="650" r="2.8" fill="#e4e4e4" fill-opacity="0.3" stroke="#7d7d7d" stroke-width="1.55"/>
<circle cx="592.32" cy="648.21" r="2.8" fill="#e4e4e4" fill-opacity="0.3" stroke="#7d7d7d" stroke-width="1.55"/>
<circle cx="597.41" cy="648.21" r="2.8" fill="#e4e4e4" fill-opacity="0.3" stroke="#7d7d7d" stroke-width="1.55"/>
<circle cx="602.49" cy="648.21" r="2.8" fill="#e4e4e4" fill-opacity="0.3" stroke="#7d7d7d" stroke-width="1.55"/>
<circle cx="607.58" cy="642.05" r="2.8" fill="#e4e4e4" fill-opacity="0.3" stroke="#7d7d7d" stroke-width="1.55"/>
<circle cx="612.67" cy="637.28" r="2.8" fill="#e4e4e4" fill-opacity="0.3" stroke="#7d7d7d" stroke-width="1.55"/>
<circle cx="617.76" cy="646.72" r="2.8" fill="#e4e4e4" fill-opacity="0.3" stroke="#7d7d7d" stroke-width="1.55"/>
<circle cx="622.84" cy="653.27" r="2.8" fill="#e4e4e4" fill-opacity="0.3" stroke="#7d7d7d" stroke-width="1.55"/>
<circle cx="627.93" cy="655.76" r="2.8" fill="#e4e4e4" fill-opacity="0.3" stroke="#7d7d7d" stroke-width="1.55"/>
<circle cx="633.02" cy="652.28" r="2.8" fill="#e4e4e4" fill-opacity="0.3" stroke="#7d7d7d" stroke-width="1.55"/>
<circle cx="638.11" cy="662.31" r="2.8" fill="#e4e4e4" fill-opacity="0.3" stroke="#7d7d7d" stroke-width="1.55"/>
<circle cx="643.19" cy="663.61" r="2.8" fill="#e4e4e4" fill-opacity="0.3" stroke="#7d7d7d" stroke-width="1.55"/>
<circle cx="648.28" cy="659.43" r="2.8" fill="#e4e4e4" fill-opacity="0.3" stroke="#7d7d7d" stroke-width="1.55"/>
<path d="M63.22 510.01V562.07M61.02 510.01H65.42M61.02 562.07H65.42M68.31 509.81V554.72M66.11 509.81H70.51M66.11 554.72H70.51M73.39 506.53V550.64M71.19 506.53H75.59M71.19 550.64H75.59M78.48 504.05V546.97M76.28 504.05H80.68M76.28 546.97H80.68M83.57 504.05V543M81.37 504.05H85.77M81.37 543H85.77M88.66 500.37V539.32M86.46 500.37H90.86M86.46 539.32H90.86M93.74 496.6V532.96M91.54 496.6H95.94M91.54 532.96H95.94M98.83 490.54V531.67M96.63 490.54H101.03M96.63 531.67H101.03M103.92 487.36V531.27M101.72 487.36H106.12M101.72 531.27H106.12M109.01 482.89V534.15M106.81 482.89H111.21M106.81 534.15H111.21M114.09 464.91V527.3M111.89 464.91H116.29M111.89 527.3H116.29M119.18 466.1V517.16M116.98 466.1H121.38M116.98 517.16H121.38M124.27 472.36V519.85M122.07 472.36H126.47M122.07 519.85H126.47M129.36 479.11V523.03M127.16 479.11H131.56M127.16 523.03H131.56M134.44 487.36V530.68M132.24 487.36H136.64M132.24 530.68H136.64M139.53 478.62V538.42M137.33 478.62H141.73M137.33 538.42H141.73M144.62 483.58V542M142.42 483.58H146.82M142.42 542H146.82M149.71 448.31V558.79M147.51 448.31H151.91M147.51 558.79H151.91M154.79 452.49V564.55M152.59 452.49H156.99M152.59 564.55H156.99M159.88 504.25V568.83M157.68 504.25H162.08M157.68 568.83H162.08M185.32 521.34V561.87M183.12 521.34H187.52M183.12 561.87H187.52M190.41 520.74V552.93M188.21 520.74H192.61M188.21 552.93H192.61M195.49 511V546.17M193.29 511H197.69M193.29 546.17H197.69M200.58 497.39V541.31M198.38 497.39H202.78M198.38 541.31H202.78M205.67 492.92V537.83M203.47 492.92H207.87M203.47 537.83H207.87M210.76 482.69V538.13M208.56 482.69H212.96M208.56 538.13H212.96M215.84 481.2V536.04M213.64 481.2H218.04M213.64 536.04H218.04M220.93 486.66V531.57M218.73 486.66H223.13M218.73 531.57H223.13M226.02 487.56V533.26M223.82 487.56H228.22M223.82 533.26H228.22M231.11 490.94V534.85M228.91 490.94H233.31M228.91 534.85H233.31M236.19 493.12V535.64M233.99 493.12H238.39M233.99 535.64H238.39M241.28 485.67V540.51M239.08 485.67H243.48M239.08 540.51H243.48M246.37 487.36V539.82M244.17 487.36H248.57M244.17 539.82H248.57M251.46 488.55V545.18M249.26 488.55H253.66M249.26 545.18H253.66M256.54 486.37V549.95M254.34 486.37H258.74M254.34 549.95H258.74M261.63 492.62V554.62M259.43 492.62H263.83M259.43 554.62H263.83M266.72 488.25V561.57M264.52 488.25H268.92M264.52 561.57H268.92M271.81 500.77V571.51M269.61 500.77H274.01M269.61 571.51H274.01M276.89 504.05V579.56M274.69 504.05H279.09M274.69 579.56H279.09M281.98 503.55V584.62M279.78 503.55H284.18M279.78 584.62H284.18M307.42 505.84V581.34M305.22 505.84H309.62M305.22 581.34H309.62M312.51 506.53V573.1M310.31 506.53H314.71M310.31 573.1H314.71M317.59 497.29V563.86M315.39 497.29H319.79M315.39 563.86H319.79M322.68 481.89V561.77M320.48 481.89H324.88M320.48 561.77H324.88M327.77 478.72V557.6M325.57 478.72H329.97M325.57 557.6H329.97M332.86 485.07V553.23M330.66 485.07H335.06M330.66 553.23H335.06M337.94 478.72V551.04M335.74 478.72H340.14M335.74 551.04H340.14M343.03 476.03V546.17M340.83 476.03H345.23M340.83 546.17H345.23M348.12 475.44V545.78M345.92 475.44H350.32M345.92 545.78H350.32M353.21 480.11V543.09M351.01 480.11H355.41M351.01 543.09H355.41M358.29 457.55V543.19M356.09 457.55H360.49M356.09 543.19H360.49M363.38 432.62V548.26M361.18 432.62H365.58M361.18 548.26H365.58M368.47 447.02V541.21M366.27 447.02H370.67M366.27 541.21H370.67M373.56 453.18V541.6M371.36 453.18H375.76M371.36 541.6H375.76M378.64 454.47V545.28M376.44 454.47H380.84M376.44 545.28H380.84M383.73 462.82V551.04M381.53 462.82H385.93M381.53 551.04H385.93M388.82 471.66V556.51M386.62 471.66H391.02M386.62 556.51H391.02M393.91 489.84V558.99M391.71 489.84H396.11M391.71 558.99H396.11M398.99 475.24V569.42M396.79 475.24H401.19M396.79 569.42H401.19M404.08 488.55V575.18M401.88 488.55H406.28M401.88 575.18H406.28M429.52 517.06V588.2M427.32 517.06H431.72M427.32 588.2H431.72M434.61 514.58V580.15M432.41 514.58H436.81M432.41 580.15H436.81M439.69 507.83V575.38M437.49 507.83H441.89M437.49 575.38H441.89M444.78 496.9V570.42M442.58 496.9H446.98M442.58 570.42H446.98M449.87 481.99V570.22M447.67 481.99H452.07M447.67 570.22H452.07M454.96 493.92V560.88M452.76 493.92H457.16M452.76 560.88H457.16M460.04 487.06V552.63M457.84 487.06H462.24M457.84 552.63H462.24M465.13 482.29V551.44M462.93 482.29H467.33M462.93 551.44H467.33M470.22 470.27V556.9M468.02 470.27H472.42M468.02 556.9H472.42M475.31 468.78V557M473.11 468.78H477.51M473.11 557H477.51M480.39 457.55V546.17M478.19 457.55H482.59M478.19 546.17H482.59M485.48 429.44V561.97M483.28 429.44H487.68M483.28 561.97H487.68M490.57 478.62V546.17M488.37 478.62H492.77M488.37 546.17H492.77M495.66 479.21V549.55M493.46 479.21H497.86M493.46 549.55H497.86M500.74 475.34V551.84M498.54 475.34H502.94M498.54 551.84H502.94M505.83 477.52V545.68M503.63 477.52H508.03M503.63 545.68H508.03M510.92 485.87V551.44M508.72 485.87H513.12M508.72 551.44H513.12M516.01 490.84V556.41M513.81 490.84H518.21M513.81 556.41H518.21M521.09 497.89V561.87M518.89 497.89H523.29M518.89 561.87H523.29M526.18 494.61V568.13M523.98 494.61H528.38M523.98 568.13H528.38M551.62 503.95V562.17M549.42 503.95H553.82M549.42 562.17H553.82M556.71 501.37V558.39M554.51 501.37H558.91M554.51 558.39H558.91M561.79 494.51V551.14M559.59 494.51H563.99M559.59 551.14H563.99M566.88 488.35V546.37M564.68 488.35H569.08M564.68 546.37H569.08M571.97 485.77V543M569.77 485.77H574.17M569.77 543H574.17M577.06 481.3V536.93M574.86 481.3H579.26M574.86 536.93H579.26M582.14 475.14V534.75M579.94 475.14H584.34M579.94 534.75H584.34M587.23 468.58V532.17M585.03 468.58H589.43M585.03 532.17H589.43M592.32 467.09V531.27M590.12 467.09H594.52M590.12 531.27H594.52M597.41 471.16V533.56M595.21 471.16H599.61M595.21 533.56H599.61M602.49 469.58V531.17M600.29 469.58H604.69M600.29 531.17H604.69M607.58 462.42V527.4M605.38 462.42H609.78M605.38 527.4H609.78M612.67 462.12V527.7M610.47 462.12H614.87M610.47 527.7H614.87M617.76 478.32V534.95M615.56 478.32H619.96M615.56 534.95H619.96M622.84 485.07V538.72M620.64 485.07H625.04M620.64 538.72H625.04M627.93 483.58V543.59M625.73 483.58H630.13M625.73 543.59H630.13M633.02 487.96V545.38M630.82 487.96H635.22M630.82 545.38H635.22M638.11 488.05V551.64M635.91 488.05H640.31M635.91 551.64H640.31M643.19 495.11V555.71M640.99 495.11H645.39M640.99 555.71H645.39M648.28 499.38V566.34M646.08 499.38H650.48M646.08 566.34H650.48" fill="none" stroke="#0000ff" stroke-width="1"/>
<polyline points="63.22,536.04 68.31,532.27 73.39,528.59 78.48,525.51 83.57,523.52 88.66,519.85 93.74,514.78 98.83,511.1 103.92,509.32 109.01,508.52 114.09,496.1 119.18,491.63 124.27,496.1 129.36,501.07 134.44,509.02 139.53,508.52 144.62,512.79 149.71,503.55 154.79,508.52 159.88,536.54" fill="none" stroke="#0000ff" stroke-width="1.4" stroke-linejoin="round"/>
<polyline points="185.32,541.6 190.41,536.84 195.49,528.59 200.58,519.35 205.67,515.38 210.76,510.41 215.84,508.62 220.93,509.12 226.02,510.41 231.11,512.89 236.19,514.38 241.28,513.09 246.37,513.59 251.46,516.87 256.54,518.16 261.63,523.62 266.72,524.91 271.81,536.14 276.89,541.8 281.98,544.09" fill="none" stroke="#0000ff" stroke-width="1.4" stroke-linejoin="round"/>
<polyline points="307.42,543.59 312.51,539.82 317.59,530.58 322.68,521.83 327.77,518.16 332.86,519.15 337.94,514.88 343.03,511.1 348.12,510.61 353.21,511.6 358.29,500.37 363.38,490.44 368.47,494.11 373.56,497.39 378.64,499.88 383.73,506.93 388.82,514.08 393.91,524.42 398.99,522.33 404.08,531.87" fill="none" stroke="#0000ff" stroke-width="1.4" stroke-linejoin="round"/>
<polyline points="429.52,552.63 434.61,547.37 439.69,541.6 444.78,533.66 449.87,526.11 454.96,527.4 460.04,519.85 465.13,516.87 470.22,513.59 475.31,512.89 480.39,501.86 485.48,495.7 490.57,512.4 495.66,514.38 500.74,513.59 505.83,511.6 510.92,518.65 516.01,523.62 521.09,529.88 526.18,531.37" fill="none" stroke="#0000ff" stroke-width="1.4" stroke-linejoin="round"/>
<polyline points="551.62,533.06 556.71,529.88 561.79,522.83 566.88,517.36 571.97,514.38 577.06,509.12 582.14,504.94 587.23,500.37 592.32,499.18 597.41,502.36 602.49,500.37 607.58,494.91 612.67,494.91 617.76,506.63 622.84,511.9 627.93,513.59 633.02,516.67 638.11,519.85 643.19,525.41 648.28,532.86" fill="none" stroke="#0000ff" stroke-width="1.4" stroke-linejoin="round"/>
<rect x="59.57" y="532.49" width="7.3" height="7.1" fill="none" stroke="#0000ff" stroke-width="1.65" stroke-linejoin="round"/>
<rect x="64.66" y="528.72" width="7.3" height="7.1" fill="none" stroke="#0000ff" stroke-width="1.65" stroke-linejoin="round"/>
<rect x="69.74" y="525.04" width="7.3" height="7.1" fill="none" stroke="#0000ff" stroke-width="1.65" stroke-linejoin="round"/>
<rect x="74.83" y="521.96" width="7.3" height="7.1" fill="none" stroke="#0000ff" stroke-width="1.65" stroke-linejoin="round"/>
<rect x="79.92" y="519.97" width="7.3" height="7.1" fill="none" stroke="#0000ff" stroke-width="1.65" stroke-linejoin="round"/>
<rect x="85.01" y="516.3" width="7.3" height="7.1" fill="none" stroke="#0000ff" stroke-width="1.65" stroke-linejoin="round"/>
<rect x="90.09" y="511.23" width="7.3" height="7.1" fill="none" stroke="#0000ff" stroke-width="1.65" stroke-linejoin="round"/>
<rect x="95.18" y="507.55" width="7.3" height="7.1" fill="none" stroke="#0000ff" stroke-width="1.65" stroke-linejoin="round"/>
<rect x="100.27" y="505.77" width="7.3" height="7.1" fill="none" stroke="#0000ff" stroke-width="1.65" stroke-linejoin="round"/>
<rect x="105.36" y="504.97" width="7.3" height="7.1" fill="none" stroke="#0000ff" stroke-width="1.65" stroke-linejoin="round"/>
<rect x="110.44" y="492.55" width="7.3" height="7.1" fill="none" stroke="#0000ff" stroke-width="1.65" stroke-linejoin="round"/>
<rect x="115.53" y="488.08" width="7.3" height="7.1" fill="none" stroke="#0000ff" stroke-width="1.65" stroke-linejoin="round"/>
<rect x="120.62" y="492.55" width="7.3" height="7.1" fill="none" stroke="#0000ff" stroke-width="1.65" stroke-linejoin="round"/>
<rect x="125.71" y="497.52" width="7.3" height="7.1" fill="none" stroke="#0000ff" stroke-width="1.65" stroke-linejoin="round"/>
<rect x="130.79" y="505.47" width="7.3" height="7.1" fill="none" stroke="#0000ff" stroke-width="1.65" stroke-linejoin="round"/>
<rect x="135.88" y="504.97" width="7.3" height="7.1" fill="none" stroke="#0000ff" stroke-width="1.65" stroke-linejoin="round"/>
<rect x="140.97" y="509.24" width="7.3" height="7.1" fill="none" stroke="#0000ff" stroke-width="1.65" stroke-linejoin="round"/>
<rect x="146.06" y="500" width="7.3" height="7.1" fill="none" stroke="#0000ff" stroke-width="1.65" stroke-linejoin="round"/>
<rect x="151.14" y="504.97" width="7.3" height="7.1" fill="none" stroke="#0000ff" stroke-width="1.65" stroke-linejoin="round"/>
<rect x="156.23" y="532.99" width="7.3" height="7.1" fill="none" stroke="#0000ff" stroke-width="1.65" stroke-linejoin="round"/>
<rect x="181.67" y="538.05" width="7.3" height="7.1" fill="none" stroke="#0000ff" stroke-width="1.65" stroke-linejoin="round"/>
<rect x="186.76" y="533.29" width="7.3" height="7.1" fill="none" stroke="#0000ff" stroke-width="1.65" stroke-linejoin="round"/>
<rect x="191.84" y="525.04" width="7.3" height="7.1" fill="none" stroke="#0000ff" stroke-width="1.65" stroke-linejoin="round"/>
<rect x="196.93" y="515.8" width="7.3" height="7.1" fill="none" stroke="#0000ff" stroke-width="1.65" stroke-linejoin="round"/>
<rect x="202.02" y="511.83" width="7.3" height="7.1" fill="none" stroke="#0000ff" stroke-width="1.65" stroke-linejoin="round"/>
<rect x="207.11" y="506.86" width="7.3" height="7.1" fill="none" stroke="#0000ff" stroke-width="1.65" stroke-linejoin="round"/>
<rect x="212.19" y="505.07" width="7.3" height="7.1" fill="none" stroke="#0000ff" stroke-width="1.65" stroke-linejoin="round"/>
<rect x="217.28" y="505.57" width="7.3" height="7.1" fill="none" stroke="#0000ff" stroke-width="1.65" stroke-linejoin="round"/>
<rect x="222.37" y="506.86" width="7.3" height="7.1" fill="none" stroke="#0000ff" stroke-width="1.65" stroke-linejoin="round"/>
<rect x="227.46" y="509.34" width="7.3" height="7.1" fill="none" stroke="#0000ff" stroke-width="1.65" stroke-linejoin="round"/>
<rect x="232.54" y="510.83" width="7.3" height="7.1" fill="none" stroke="#0000ff" stroke-width="1.65" stroke-linejoin="round"/>
<rect x="237.63" y="509.54" width="7.3" height="7.1" fill="none" stroke="#0000ff" stroke-width="1.65" stroke-linejoin="round"/>
<rect x="242.72" y="510.04" width="7.3" height="7.1" fill="none" stroke="#0000ff" stroke-width="1.65" stroke-linejoin="round"/>
<rect x="247.81" y="513.32" width="7.3" height="7.1" fill="none" stroke="#0000ff" stroke-width="1.65" stroke-linejoin="round"/>
<rect x="252.89" y="514.61" width="7.3" height="7.1" fill="none" stroke="#0000ff" stroke-width="1.65" stroke-linejoin="round"/>
<rect x="257.98" y="520.07" width="7.3" height="7.1" fill="none" stroke="#0000ff" stroke-width="1.65" stroke-linejoin="round"/>
<rect x="263.07" y="521.36" width="7.3" height="7.1" fill="none" stroke="#0000ff" stroke-width="1.65" stroke-linejoin="round"/>
<rect x="268.16" y="532.59" width="7.3" height="7.1" fill="none" stroke="#0000ff" stroke-width="1.65" stroke-linejoin="round"/>
<rect x="273.24" y="538.25" width="7.3" height="7.1" fill="none" stroke="#0000ff" stroke-width="1.65" stroke-linejoin="round"/>
<rect x="278.33" y="540.54" width="7.3" height="7.1" fill="none" stroke="#0000ff" stroke-width="1.65" stroke-linejoin="round"/>
<rect x="303.77" y="540.04" width="7.3" height="7.1" fill="none" stroke="#0000ff" stroke-width="1.65" stroke-linejoin="round"/>
<rect x="308.86" y="536.27" width="7.3" height="7.1" fill="none" stroke="#0000ff" stroke-width="1.65" stroke-linejoin="round"/>
<rect x="313.94" y="527.03" width="7.3" height="7.1" fill="none" stroke="#0000ff" stroke-width="1.65" stroke-linejoin="round"/>
<rect x="319.03" y="518.28" width="7.3" height="7.1" fill="none" stroke="#0000ff" stroke-width="1.65" stroke-linejoin="round"/>
<rect x="324.12" y="514.61" width="7.3" height="7.1" fill="none" stroke="#0000ff" stroke-width="1.65" stroke-linejoin="round"/>
<rect x="329.21" y="515.6" width="7.3" height="7.1" fill="none" stroke="#0000ff" stroke-width="1.65" stroke-linejoin="round"/>
<rect x="334.29" y="511.33" width="7.3" height="7.1" fill="none" stroke="#0000ff" stroke-width="1.65" stroke-linejoin="round"/>
<rect x="339.38" y="507.55" width="7.3" height="7.1" fill="none" stroke="#0000ff" stroke-width="1.65" stroke-linejoin="round"/>
<rect x="344.47" y="507.06" width="7.3" height="7.1" fill="none" stroke="#0000ff" stroke-width="1.65" stroke-linejoin="round"/>
<rect x="349.56" y="508.05" width="7.3" height="7.1" fill="none" stroke="#0000ff" stroke-width="1.65" stroke-linejoin="round"/>
<rect x="354.64" y="496.82" width="7.3" height="7.1" fill="none" stroke="#0000ff" stroke-width="1.65" stroke-linejoin="round"/>
<rect x="359.73" y="486.89" width="7.3" height="7.1" fill="none" stroke="#0000ff" stroke-width="1.65" stroke-linejoin="round"/>
<rect x="364.82" y="490.56" width="7.3" height="7.1" fill="none" stroke="#0000ff" stroke-width="1.65" stroke-linejoin="round"/>
<rect x="369.91" y="493.84" width="7.3" height="7.1" fill="none" stroke="#0000ff" stroke-width="1.65" stroke-linejoin="round"/>
<rect x="374.99" y="496.33" width="7.3" height="7.1" fill="none" stroke="#0000ff" stroke-width="1.65" stroke-linejoin="round"/>
<rect x="380.08" y="503.38" width="7.3" height="7.1" fill="none" stroke="#0000ff" stroke-width="1.65" stroke-linejoin="round"/>
<rect x="385.17" y="510.53" width="7.3" height="7.1" fill="none" stroke="#0000ff" stroke-width="1.65" stroke-linejoin="round"/>
<rect x="390.26" y="520.87" width="7.3" height="7.1" fill="none" stroke="#0000ff" stroke-width="1.65" stroke-linejoin="round"/>
<rect x="395.34" y="518.78" width="7.3" height="7.1" fill="none" stroke="#0000ff" stroke-width="1.65" stroke-linejoin="round"/>
<rect x="400.43" y="528.32" width="7.3" height="7.1" fill="none" stroke="#0000ff" stroke-width="1.65" stroke-linejoin="round"/>
<rect x="425.87" y="549.08" width="7.3" height="7.1" fill="none" stroke="#0000ff" stroke-width="1.65" stroke-linejoin="round"/>
<rect x="430.96" y="543.82" width="7.3" height="7.1" fill="none" stroke="#0000ff" stroke-width="1.65" stroke-linejoin="round"/>
<rect x="436.04" y="538.05" width="7.3" height="7.1" fill="none" stroke="#0000ff" stroke-width="1.65" stroke-linejoin="round"/>
<rect x="441.13" y="530.11" width="7.3" height="7.1" fill="none" stroke="#0000ff" stroke-width="1.65" stroke-linejoin="round"/>
<rect x="446.22" y="522.56" width="7.3" height="7.1" fill="none" stroke="#0000ff" stroke-width="1.65" stroke-linejoin="round"/>
<rect x="451.31" y="523.85" width="7.3" height="7.1" fill="none" stroke="#0000ff" stroke-width="1.65" stroke-linejoin="round"/>
<rect x="456.39" y="516.3" width="7.3" height="7.1" fill="none" stroke="#0000ff" stroke-width="1.65" stroke-linejoin="round"/>
<rect x="461.48" y="513.32" width="7.3" height="7.1" fill="none" stroke="#0000ff" stroke-width="1.65" stroke-linejoin="round"/>
<rect x="466.57" y="510.04" width="7.3" height="7.1" fill="none" stroke="#0000ff" stroke-width="1.65" stroke-linejoin="round"/>
<rect x="471.66" y="509.34" width="7.3" height="7.1" fill="none" stroke="#0000ff" stroke-width="1.65" stroke-linejoin="round"/>
<rect x="476.74" y="498.31" width="7.3" height="7.1" fill="none" stroke="#0000ff" stroke-width="1.65" stroke-linejoin="round"/>
<rect x="481.83" y="492.15" width="7.3" height="7.1" fill="none" stroke="#0000ff" stroke-width="1.65" stroke-linejoin="round"/>
<rect x="486.92" y="508.85" width="7.3" height="7.1" fill="none" stroke="#0000ff" stroke-width="1.65" stroke-linejoin="round"/>
<rect x="492.01" y="510.83" width="7.3" height="7.1" fill="none" stroke="#0000ff" stroke-width="1.65" stroke-linejoin="round"/>
<rect x="497.09" y="510.04" width="7.3" height="7.1" fill="none" stroke="#0000ff" stroke-width="1.65" stroke-linejoin="round"/>
<rect x="502.18" y="508.05" width="7.3" height="7.1" fill="none" stroke="#0000ff" stroke-width="1.65" stroke-linejoin="round"/>
<rect x="507.27" y="515.1" width="7.3" height="7.1" fill="none" stroke="#0000ff" stroke-width="1.65" stroke-linejoin="round"/>
<rect x="512.36" y="520.07" width="7.3" height="7.1" fill="none" stroke="#0000ff" stroke-width="1.65" stroke-linejoin="round"/>
<rect x="517.44" y="526.33" width="7.3" height="7.1" fill="none" stroke="#0000ff" stroke-width="1.65" stroke-linejoin="round"/>
<rect x="522.53" y="527.82" width="7.3" height="7.1" fill="none" stroke="#0000ff" stroke-width="1.65" stroke-linejoin="round"/>
<rect x="547.97" y="529.51" width="7.3" height="7.1" fill="none" stroke="#0000ff" stroke-width="1.65" stroke-linejoin="round"/>
<rect x="553.06" y="526.33" width="7.3" height="7.1" fill="none" stroke="#0000ff" stroke-width="1.65" stroke-linejoin="round"/>
<rect x="558.14" y="519.28" width="7.3" height="7.1" fill="none" stroke="#0000ff" stroke-width="1.65" stroke-linejoin="round"/>
<rect x="563.23" y="513.81" width="7.3" height="7.1" fill="none" stroke="#0000ff" stroke-width="1.65" stroke-linejoin="round"/>
<rect x="568.32" y="510.83" width="7.3" height="7.1" fill="none" stroke="#0000ff" stroke-width="1.65" stroke-linejoin="round"/>
<rect x="573.41" y="505.57" width="7.3" height="7.1" fill="none" stroke="#0000ff" stroke-width="1.65" stroke-linejoin="round"/>
<rect x="578.49" y="501.39" width="7.3" height="7.1" fill="none" stroke="#0000ff" stroke-width="1.65" stroke-linejoin="round"/>
<rect x="583.58" y="496.82" width="7.3" height="7.1" fill="none" stroke="#0000ff" stroke-width="1.65" stroke-linejoin="round"/>
<rect x="588.67" y="495.63" width="7.3" height="7.1" fill="none" stroke="#0000ff" stroke-width="1.65" stroke-linejoin="round"/>
<rect x="593.76" y="498.81" width="7.3" height="7.1" fill="none" stroke="#0000ff" stroke-width="1.65" stroke-linejoin="round"/>
<rect x="598.84" y="496.82" width="7.3" height="7.1" fill="none" stroke="#0000ff" stroke-width="1.65" stroke-linejoin="round"/>
<rect x="603.93" y="491.36" width="7.3" height="7.1" fill="none" stroke="#0000ff" stroke-width="1.65" stroke-linejoin="round"/>
<rect x="609.02" y="491.36" width="7.3" height="7.1" fill="none" stroke="#0000ff" stroke-width="1.65" stroke-linejoin="round"/>
<rect x="614.11" y="503.08" width="7.3" height="7.1" fill="none" stroke="#0000ff" stroke-width="1.65" stroke-linejoin="round"/>
<rect x="619.19" y="508.35" width="7.3" height="7.1" fill="none" stroke="#0000ff" stroke-width="1.65" stroke-linejoin="round"/>
<rect x="624.28" y="510.04" width="7.3" height="7.1" fill="none" stroke="#0000ff" stroke-width="1.65" stroke-linejoin="round"/>
<rect x="629.37" y="513.12" width="7.3" height="7.1" fill="none" stroke="#0000ff" stroke-width="1.65" stroke-linejoin="round"/>
<rect x="634.46" y="516.3" width="7.3" height="7.1" fill="none" stroke="#0000ff" stroke-width="1.65" stroke-linejoin="round"/>
<rect x="639.54" y="521.86" width="7.3" height="7.1" fill="none" stroke="#0000ff" stroke-width="1.65" stroke-linejoin="round"/>
<rect x="644.63" y="529.31" width="7.3" height="7.1" fill="none" stroke="#0000ff" stroke-width="1.65" stroke-linejoin="round"/>
<path d="M50.8 381.75V680.6" stroke="#6a6a6a" stroke-width="1.3" fill="none"/>
<path d="M50.1 679.8H662.4" stroke="#6a6a6a" stroke-width="1.8" fill="none"/>
<path d="M47.6 679.8H50.8" stroke="#555" stroke-width="1.25" fill="none"/>
<text x="42.8" y="682.8" text-anchor="end" class="yt">0</text>
<path d="M47.6 630.12H50.8" stroke="#555" stroke-width="1.25" fill="none"/>
<text x="42.8" y="633.12" text-anchor="end" class="yt">500</text>
<path d="M47.6 580.45H50.8" stroke="#555" stroke-width="1.25" fill="none"/>
<text x="42.8" y="583.45" text-anchor="end" class="yt">1000</text>
<path d="M47.6 530.77H50.8" stroke="#555" stroke-width="1.25" fill="none"/>
<text x="42.8" y="533.77" text-anchor="end" class="yt">1500</text>
<path d="M47.6 481.1H50.8" stroke="#555" stroke-width="1.25" fill="none"/>
<text x="42.8" y="484.1" text-anchor="end" class="yt">2000</text>
<path d="M47.6 431.42H50.8" stroke="#555" stroke-width="1.25" fill="none"/>
<text x="42.8" y="434.42" text-anchor="end" class="yt">2500</text>
<path d="M47.6 381.75H50.8" stroke="#555" stroke-width="1.25" fill="none"/>
<text x="42.8" y="384.75" text-anchor="end" class="yt">3000</text>
<path d="M172.55 679.8V712.3" stroke="#262626" stroke-width="1.2" fill="none"/>
<path d="M295 679.8V712.3" stroke="#262626" stroke-width="1.2" fill="none"/>
<path d="M417.4 679.8V712.3" stroke="#262626" stroke-width="1.2" fill="none"/>
<path d="M539.5 679.8V712.3" stroke="#262626" stroke-width="1.2" fill="none"/>
<path d="M661.9 679.8V707.8" stroke="#9a9a9a" stroke-width="1.1" fill="none"/>
<text transform="translate(66.42 685.3) rotate(-90)" text-anchor="end" class="xt">0h</text>
<text transform="translate(86.77 685.3) rotate(-90)" text-anchor="end" class="xt">1h</text>
<text transform="translate(112.21 685.3) rotate(-90)" text-anchor="end" class="xt">2h</text>
<text transform="translate(137.64 685.3) rotate(-90)" text-anchor="end" class="xt">3h</text>
<text transform="translate(163.08 685.3) rotate(-90)" text-anchor="end" class="xt">4h</text>
<text x="111.85" y="709.6" text-anchor="middle" class="day">Mon</text>
<text transform="translate(188.52 685.3) rotate(-90)" text-anchor="end" class="xt">0h</text>
<text transform="translate(208.87 685.3) rotate(-90)" text-anchor="end" class="xt">1h</text>
<text transform="translate(234.31 685.3) rotate(-90)" text-anchor="end" class="xt">2h</text>
<text transform="translate(259.74 685.3) rotate(-90)" text-anchor="end" class="xt">3h</text>
<text transform="translate(285.18 685.3) rotate(-90)" text-anchor="end" class="xt">4h</text>
<text x="233.95" y="709.6" text-anchor="middle" class="day">Tue</text>
<text transform="translate(310.62 685.3) rotate(-90)" text-anchor="end" class="xt">0h</text>
<text transform="translate(330.97 685.3) rotate(-90)" text-anchor="end" class="xt">1h</text>
<text transform="translate(356.41 685.3) rotate(-90)" text-anchor="end" class="xt">2h</text>
<text transform="translate(381.84 685.3) rotate(-90)" text-anchor="end" class="xt">3h</text>
<text transform="translate(407.28 685.3) rotate(-90)" text-anchor="end" class="xt">4h</text>
<text x="356.05" y="709.6" text-anchor="middle" class="day">Wed</text>
<text transform="translate(432.72 685.3) rotate(-90)" text-anchor="end" class="xt">0h</text>
<text transform="translate(453.07 685.3) rotate(-90)" text-anchor="end" class="xt">1h</text>
<text transform="translate(478.51 685.3) rotate(-90)" text-anchor="end" class="xt">2h</text>
<text transform="translate(503.94 685.3) rotate(-90)" text-anchor="end" class="xt">3h</text>
<text transform="translate(529.38 685.3) rotate(-90)" text-anchor="end" class="xt">4h</text>
<text x="478.15" y="709.6" text-anchor="middle" class="day">Thu</text>
<text transform="translate(554.82 685.3) rotate(-90)" text-anchor="end" class="xt">0h</text>
<text transform="translate(575.17 685.3) rotate(-90)" text-anchor="end" class="xt">1h</text>
<text transform="translate(600.61 685.3) rotate(-90)" text-anchor="end" class="xt">2h</text>
<text transform="translate(626.04 685.3) rotate(-90)" text-anchor="end" class="xt">3h</text>
<text transform="translate(651.48 685.3) rotate(-90)" text-anchor="end" class="xt">4h</text>
<text x="594.85" y="709.6" text-anchor="middle" class="day">Fri</text>
<path d="M543.1 398.4H560.3" stroke="#7d7d7d" stroke-width="1.5"/>
<circle cx="551.8" cy="398.4" r="2.5" fill="none" stroke="#7d7d7d" stroke-width="1.5"/>
<text x="562.7" y="401.6" class="lg">Placebo</text>
<path d="M607.3 398.4H624.8" stroke="#0000ff" stroke-width="1.5"/>
<rect x="613.2" y="395.6" width="5.6" height="5.6" fill="none" stroke="#0000ff" stroke-width="1.6"/>
<text x="626.3" y="401.6" class="lg">DS+</text>
<text x="0.8" y="385.2" class="pl">b</text>
<text transform="translate(16.0 530.6) rotate(-90)" text-anchor="middle" class="ytitle">melanopic D65-equivalent illuminance [m-D65 lux]</text>
<text x="339.55" y="729.6" text-anchor="middle" class="xtitle">weekday</text>
</g>
</svg>
</body>
</html>
